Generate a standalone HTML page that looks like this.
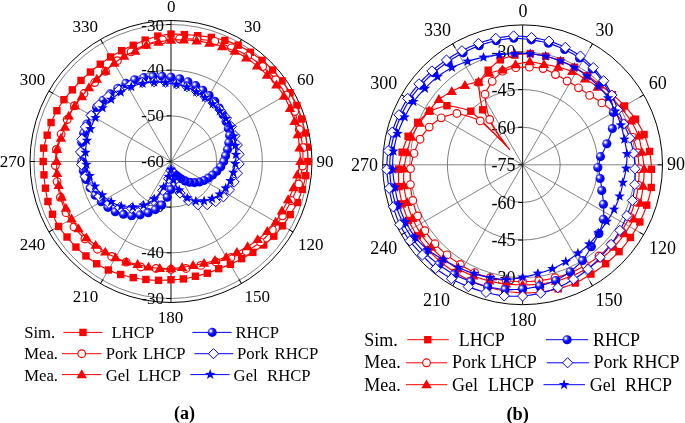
<!DOCTYPE html>
<html><head><meta charset="utf-8"><title>Polar radiation patterns</title>
<style>html,body{margin:0;padding:0;background:#fff;}svg{display:block;}text{font-family:"Liberation Serif",serif;}svg{will-change:transform;}</style></head>
<body>
<svg width="685" height="423" viewBox="0 0 685 423" font-family='"Liberation Serif", serif' fill="#000">
<defs><radialGradient id="sph" cx="0.36" cy="0.36" r="0.66" fx="0.34" fy="0.34"><stop offset="0" stop-color="#ffffff"/><stop offset="0.12" stop-color="#f0f0ff"/><stop offset="0.3" stop-color="#5a5aff"/><stop offset="0.55" stop-color="#0808ff"/><stop offset="1" stop-color="#0000f0"/></radialGradient></defs>
<rect width="685" height="423" fill="#fff"/>
<circle cx="171" cy="161.5" r="45.67" fill="none" stroke="#606060" stroke-width="0.8"/>
<circle cx="171" cy="161.5" r="91.33" fill="none" stroke="#606060" stroke-width="0.8"/>
<circle cx="171" cy="161.5" r="137" fill="none" stroke="#606060" stroke-width="0.8"/>
<line x1="171" y1="161.5" x2="241.5" y2="39.39" stroke="#666" stroke-width="0.8"/>
<line x1="239" y1="43.72" x2="241.5" y2="39.39" stroke="#000" stroke-width="1"/>
<line x1="171" y1="161.5" x2="293.11" y2="91" stroke="#666" stroke-width="0.8"/>
<line x1="288.78" y1="93.5" x2="293.11" y2="91" stroke="#000" stroke-width="1"/>
<line x1="171" y1="161.5" x2="312" y2="161.5" stroke="#666" stroke-width="0.8"/>
<line x1="307" y1="161.5" x2="312" y2="161.5" stroke="#000" stroke-width="1"/>
<line x1="171" y1="161.5" x2="293.11" y2="232" stroke="#666" stroke-width="0.8"/>
<line x1="288.78" y1="229.5" x2="293.11" y2="232" stroke="#000" stroke-width="1"/>
<line x1="171" y1="161.5" x2="241.5" y2="283.61" stroke="#666" stroke-width="0.8"/>
<line x1="239" y1="279.28" x2="241.5" y2="283.61" stroke="#000" stroke-width="1"/>
<line x1="171" y1="161.5" x2="100.5" y2="283.61" stroke="#666" stroke-width="0.8"/>
<line x1="103" y1="279.28" x2="100.5" y2="283.61" stroke="#000" stroke-width="1"/>
<line x1="171" y1="161.5" x2="48.89" y2="232" stroke="#666" stroke-width="0.8"/>
<line x1="53.22" y1="229.5" x2="48.89" y2="232" stroke="#000" stroke-width="1"/>
<line x1="171" y1="161.5" x2="30" y2="161.5" stroke="#666" stroke-width="0.8"/>
<line x1="35" y1="161.5" x2="30" y2="161.5" stroke="#000" stroke-width="1"/>
<line x1="171" y1="161.5" x2="48.89" y2="91" stroke="#666" stroke-width="0.8"/>
<line x1="53.22" y1="93.5" x2="48.89" y2="91" stroke="#000" stroke-width="1"/>
<line x1="171" y1="161.5" x2="100.5" y2="39.39" stroke="#666" stroke-width="0.8"/>
<line x1="103" y1="43.72" x2="100.5" y2="39.39" stroke="#000" stroke-width="1"/>
<circle cx="171" cy="161.5" r="141" fill="none" stroke="#000" stroke-width="1"/>
<line x1="171" y1="20.5" x2="171" y2="302.5" stroke="#222" stroke-width="1.1"/>
<line x1="166.5" y1="24.5" x2="171" y2="24.5" stroke="#000" stroke-width="1"/>
<text x="164" y="30.61" font-size="17" text-anchor="end" font-weight="normal" >-30</text>
<line x1="166.5" y1="298.5" x2="171" y2="298.5" stroke="#000" stroke-width="1"/>
<text x="164" y="303.81" font-size="17" text-anchor="end" font-weight="normal" >-30</text>
<line x1="166.5" y1="70.17" x2="171" y2="70.17" stroke="#000" stroke-width="1"/>
<text x="164" y="75.48" font-size="17" text-anchor="end" font-weight="normal" >-40</text>
<line x1="166.5" y1="252.83" x2="171" y2="252.83" stroke="#000" stroke-width="1"/>
<text x="164" y="258.14" font-size="17" text-anchor="end" font-weight="normal" >-40</text>
<line x1="166.5" y1="115.83" x2="171" y2="115.83" stroke="#000" stroke-width="1"/>
<text x="164" y="121.14" font-size="17" text-anchor="end" font-weight="normal" >-50</text>
<line x1="166.5" y1="207.17" x2="171" y2="207.17" stroke="#000" stroke-width="1"/>
<text x="164" y="212.48" font-size="17" text-anchor="end" font-weight="normal" >-50</text>
<line x1="166.5" y1="161.5" x2="171" y2="161.5" stroke="#000" stroke-width="1"/>
<text x="164" y="166.81" font-size="17" text-anchor="end" font-weight="normal" >-60</text>
<text x="171.2" y="12" font-size="17" text-anchor="middle" font-weight="normal" >0</text>
<text x="252.4" y="31.5" font-size="17" text-anchor="middle" font-weight="normal" >30</text>
<text x="305.6" y="85" font-size="17" text-anchor="middle" font-weight="normal" >60</text>
<text x="325" y="166.5" font-size="17" text-anchor="middle" font-weight="normal" >90</text>
<text x="310.7" y="249.5" font-size="17" text-anchor="middle" font-weight="normal" >120</text>
<text x="257.3" y="302.3" font-size="17" text-anchor="middle" font-weight="normal" >150</text>
<text x="170.5" y="323" font-size="17" text-anchor="middle" font-weight="normal" >180</text>
<text x="85.4" y="302.3" font-size="17" text-anchor="middle" font-weight="normal" >210</text>
<text x="32.4" y="249.5" font-size="17" text-anchor="middle" font-weight="normal" >240</text>
<text x="12.5" y="167" font-size="17" text-anchor="middle" font-weight="normal" >270</text>
<text x="32.4" y="85" font-size="17" text-anchor="middle" font-weight="normal" >300</text>
<text x="85.3" y="31.5" font-size="17" text-anchor="middle" font-weight="normal" >330</text>
<circle cx="522.6" cy="164.8" r="37.6" fill="none" stroke="#606060" stroke-width="0.8"/>
<circle cx="522.6" cy="164.8" r="75.2" fill="none" stroke="#606060" stroke-width="0.8"/>
<circle cx="522.6" cy="164.8" r="112.8" fill="none" stroke="#606060" stroke-width="0.8"/>
<line x1="522.6" y1="164.8" x2="592.55" y2="43.64" stroke="#666" stroke-width="0.8"/>
<line x1="590.05" y1="47.97" x2="592.55" y2="43.64" stroke="#000" stroke-width="1"/>
<line x1="522.6" y1="164.8" x2="643.76" y2="94.85" stroke="#666" stroke-width="0.8"/>
<line x1="639.43" y1="97.35" x2="643.76" y2="94.85" stroke="#000" stroke-width="1"/>
<line x1="522.6" y1="164.8" x2="662.5" y2="164.8" stroke="#666" stroke-width="0.8"/>
<line x1="657.5" y1="164.8" x2="662.5" y2="164.8" stroke="#000" stroke-width="1"/>
<line x1="522.6" y1="164.8" x2="643.76" y2="234.75" stroke="#666" stroke-width="0.8"/>
<line x1="639.43" y1="232.25" x2="643.76" y2="234.75" stroke="#000" stroke-width="1"/>
<line x1="522.6" y1="164.8" x2="592.55" y2="285.96" stroke="#666" stroke-width="0.8"/>
<line x1="590.05" y1="281.63" x2="592.55" y2="285.96" stroke="#000" stroke-width="1"/>
<line x1="522.6" y1="164.8" x2="452.65" y2="285.96" stroke="#666" stroke-width="0.8"/>
<line x1="455.15" y1="281.63" x2="452.65" y2="285.96" stroke="#000" stroke-width="1"/>
<line x1="522.6" y1="164.8" x2="401.44" y2="234.75" stroke="#666" stroke-width="0.8"/>
<line x1="405.77" y1="232.25" x2="401.44" y2="234.75" stroke="#000" stroke-width="1"/>
<line x1="522.6" y1="164.8" x2="382.7" y2="164.8" stroke="#666" stroke-width="0.8"/>
<line x1="387.7" y1="164.8" x2="382.7" y2="164.8" stroke="#000" stroke-width="1"/>
<line x1="522.6" y1="164.8" x2="401.44" y2="94.85" stroke="#666" stroke-width="0.8"/>
<line x1="405.77" y1="97.35" x2="401.44" y2="94.85" stroke="#000" stroke-width="1"/>
<line x1="522.6" y1="164.8" x2="452.65" y2="43.64" stroke="#666" stroke-width="0.8"/>
<line x1="455.15" y1="47.97" x2="452.65" y2="43.64" stroke="#000" stroke-width="1"/>
<circle cx="522.6" cy="164.8" r="139.9" fill="none" stroke="#000" stroke-width="1"/>
<line x1="522.6" y1="24.9" x2="522.6" y2="304.7" stroke="#222" stroke-width="1.1"/>
<line x1="518.1" y1="52" x2="522.6" y2="52" stroke="#000" stroke-width="1"/>
<text x="515.6" y="58.41" font-size="18" text-anchor="end" font-weight="normal" >-30</text>
<line x1="518.1" y1="277.6" x2="522.6" y2="277.6" stroke="#000" stroke-width="1"/>
<text x="515.6" y="284.01" font-size="18" text-anchor="end" font-weight="normal" >-30</text>
<line x1="518.1" y1="89.6" x2="522.6" y2="89.6" stroke="#000" stroke-width="1"/>
<text x="515.6" y="96.01" font-size="18" text-anchor="end" font-weight="normal" >-45</text>
<line x1="518.1" y1="240" x2="522.6" y2="240" stroke="#000" stroke-width="1"/>
<text x="515.6" y="246.41" font-size="18" text-anchor="end" font-weight="normal" >-45</text>
<line x1="518.1" y1="127.2" x2="522.6" y2="127.2" stroke="#000" stroke-width="1"/>
<text x="515.6" y="133.61" font-size="18" text-anchor="end" font-weight="normal" >-60</text>
<line x1="518.1" y1="202.4" x2="522.6" y2="202.4" stroke="#000" stroke-width="1"/>
<text x="515.6" y="208.81" font-size="18" text-anchor="end" font-weight="normal" >-60</text>
<line x1="518.1" y1="164.8" x2="522.6" y2="164.8" stroke="#000" stroke-width="1"/>
<text x="515.6" y="171.21" font-size="18" text-anchor="end" font-weight="normal" >-75</text>
<text x="522.9" y="16.5" font-size="18" text-anchor="middle" font-weight="normal" >0</text>
<text x="604.6" y="36" font-size="18" text-anchor="middle" font-weight="normal" >30</text>
<text x="657.7" y="88.9" font-size="18" text-anchor="middle" font-weight="normal" >60</text>
<text x="675.9" y="170" font-size="18" text-anchor="middle" font-weight="normal" >90</text>
<text x="662.6" y="253.7" font-size="18" text-anchor="middle" font-weight="normal" >120</text>
<text x="609" y="306.3" font-size="18" text-anchor="middle" font-weight="normal" >150</text>
<text x="523.1" y="326.2" font-size="18" text-anchor="middle" font-weight="normal" >180</text>
<text x="436.5" y="306.4" font-size="18" text-anchor="middle" font-weight="normal" >210</text>
<text x="383.7" y="253.8" font-size="18" text-anchor="middle" font-weight="normal" >240</text>
<text x="364.5" y="170.7" font-size="18" text-anchor="middle" font-weight="normal" >270</text>
<text x="383.7" y="88.8" font-size="18" text-anchor="middle" font-weight="normal" >300</text>
<text x="437.5" y="35.8" font-size="18" text-anchor="middle" font-weight="normal" >330</text>
<g id="Lcurves">
<path d="M171 34.1 L173.22 34.09 L175.45 34.11 L177.67 34.17 L179.9 34.28 L182.12 34.42 L184.34 34.6 L186.57 34.69 L188.8 34.81 L191.04 34.98 L193.27 35.18 L195.51 35.43 L197.74 35.71 L200 35.89 L202.26 36.11 L204.53 36.36 L206.8 36.66 L209.06 37.01 L211.33 37.39 L213.6 37.79 L215.86 38.24 L218.13 38.73 L220.39 39.27 L222.64 39.84 L224.89 40.46 L227.12 41.14 L229.35 41.87 L231.56 42.64 L233.77 43.45 L235.96 44.3 L238.15 45.19 L240.23 46.28 L242.29 47.41 L244.34 48.57 L246.36 49.77 L248.37 51.01 L250.35 52.28 L252.36 53.54 L254.34 54.83 L256.3 56.16 L258.25 57.52 L260.17 58.92 L262.07 60.36 L263.89 61.89 L265.68 63.45 L267.45 65.05 L269.19 66.68 L270.9 68.34 L272.59 70.03 L274.23 71.76 L275.85 73.52 L277.43 75.31 L278.98 77.13 L280.51 78.98 L282 80.86 L283.43 82.78 L284.83 84.72 L286.19 86.69 L287.52 88.69 L288.82 90.71 L290.08 92.75 L291.3 94.81 L292.49 96.9 L293.65 99.01 L294.76 101.14 L295.84 103.28 L296.89 105.45 L297.8 107.68 L298.67 109.92 L299.51 112.17 L300.3 114.44 L301.06 116.72 L301.77 119.01 L302.46 121.31 L303.11 123.62 L303.72 125.94 L304.29 128.27 L304.81 130.61 L305.3 132.95 L305.74 135.31 L306.15 137.67 L306.51 140.04 L306.83 142.41 L307.11 144.79 L307.35 147.17 L307.53 149.56 L307.67 151.94 L307.76 154.33 L307.82 156.72 L307.83 159.11 L307.8 161.5 L307.56 163.88 L307.28 166.26 L306.96 168.63 L306.6 170.98 L306.2 173.33 L305.76 175.66 L305.27 177.99 L304.75 180.3 L304.19 182.6 L303.59 184.88 L302.95 187.15 L302.27 189.4 L301.53 191.64 L300.76 193.85 L299.95 196.05 L299.1 198.23 L298.22 200.4 L297.3 202.54 L296.2 204.61 L295.07 206.66 L293.91 208.68 L292.71 210.67 L291.48 212.64 L290.22 214.58 L289 216.52 L287.75 218.44 L286.47 220.34 L285.17 222.2 L283.83 224.04 L282.46 225.85 L281.07 227.64 L279.66 229.4 L278.22 231.13 L276.76 232.83 L275.26 234.51 L273.75 236.15 L272.12 237.7 L270.47 239.22 L268.8 240.7 L267.11 242.15 L265.4 243.56 L263.67 244.94 L261.91 246.27 L260.13 247.57 L258.33 248.83 L256.51 250.05 L254.68 251.24 L252.83 252.39 L251 253.52 L249.14 254.63 L247.27 255.69 L245.39 256.72 L243.5 257.71 L241.59 258.66 L239.75 259.69 L237.9 260.68 L236.03 261.64 L234.15 262.56 L232.26 263.45 L230.35 264.3 L228.43 265.11 L226.51 265.89 L224.57 266.64 L222.63 267.35 L220.67 268.02 L218.71 268.66 L216.85 269.51 L214.97 270.32 L213.07 271.1 L211.16 271.85 L209.24 272.57 L207.31 273.25 L205.34 273.83 L203.37 274.38 L201.39 274.9 L199.39 275.38 L197.39 275.83 L195.39 276.24 L193.41 276.78 L191.42 277.28 L189.41 277.75 L187.4 278.19 L185.38 278.59 L183.34 278.95 L181.29 279.17 L179.24 279.35 L177.18 279.49 L175.12 279.59 L173.06 279.67 L171 279.7 L168.93 279.9 L166.86 280.06 L164.78 280.19 L162.69 280.28 L160.6 280.33 L158.51 280.35 L156.41 280.29 L154.32 280.2 L152.22 280.07 L150.12 279.91 L148.02 279.7 L145.93 279.46 L143.81 279.25 L141.7 279 L139.59 278.72 L137.48 278.39 L135.37 278.03 L133.27 277.62 L131.16 277.2 L129.06 276.74 L126.96 276.24 L124.86 275.7 L122.77 275.12 L120.69 274.51 L118.61 273.85 L116.54 273.16 L114.48 272.43 L112.43 271.66 L110.38 270.86 L108.35 270.01 L106.37 269.06 L104.41 268.07 L102.46 267.05 L100.52 265.99 L98.61 264.89 L96.7 263.76 L94.86 262.54 L93.04 261.29 L91.23 260 L89.45 258.69 L87.69 257.34 L85.95 255.95 L84.23 254.55 L82.52 253.12 L80.84 251.66 L79.19 250.16 L77.56 248.64 L75.95 247.08 L74.4 245.48 L72.87 243.84 L71.37 242.18 L69.9 240.49 L68.46 238.77 L67.04 237.03 L65.56 235.33 L64.11 233.6 L62.69 231.84 L61.29 230.05 L59.93 228.24 L58.59 226.4 L57.49 224.42 L56.42 222.42 L55.39 220.41 L54.4 218.37 L53.44 216.32 L52.51 214.25 L51.66 212.16 L50.84 210.05 L50.05 207.93 L49.31 205.79 L48.6 203.64 L47.93 201.49 L47.41 199.28 L46.93 197.08 L46.49 194.86 L46.09 192.64 L45.73 190.42 L45.41 188.2 L45.07 185.98 L44.78 183.76 L44.53 181.53 L44.31 179.3 L44.14 177.08 L44 174.85 L43.77 172.63 L43.58 170.41 L43.43 168.19 L43.31 165.96 L43.24 163.73 L43.2 161.5 L43.19 159.27 L43.21 157.04 L43.28 154.81 L43.38 152.58 L43.52 150.35 L43.7 148.12 L44.19 145.93 L44.71 143.75 L45.27 141.59 L45.86 139.44 L46.5 137.3 L47.17 135.18 L47.73 133.04 L48.32 130.91 L48.96 128.8 L49.62 126.7 L50.33 124.61 L51.07 122.53 L51.96 120.51 L52.88 118.51 L53.84 116.52 L54.82 114.56 L55.84 112.62 L56.9 110.7 L58 108.81 L59.13 106.94 L60.29 105.09 L61.49 103.27 L62.71 101.47 L63.96 99.7 L65.3 97.99 L66.66 96.3 L68.05 94.65 L69.47 93.02 L70.91 91.42 L72.38 89.85 L73.75 88.22 L75.15 86.62 L76.58 85.04 L78.03 83.49 L79.5 81.96 L81.01 80.47 L82.52 78.99 L84.06 77.54 L85.62 76.12 L87.2 74.72 L88.81 73.36 L90.44 72.03 L92.02 70.65 L93.63 69.29 L95.26 67.97 L96.92 66.68 L98.59 65.41 L100.29 64.18 L101.96 62.9 L103.65 61.66 L105.37 60.44 L107.11 59.25 L108.87 58.1 L110.65 56.97 L112.43 55.85 L114.24 54.75 L116.07 53.69 L117.91 52.66 L119.78 51.66 L121.66 50.69 L123.55 49.7 L125.45 48.75 L127.37 47.84 L129.31 46.95 L131.26 46.1 L133.24 45.28 L135.18 44.34 L137.14 43.43 L139.13 42.55 L141.13 41.7 L143.15 40.89 L145.2 40.11 L147.26 39.35 L149.33 38.63 L151.43 37.94 L153.54 37.29 L155.67 36.67 L157.82 36.09 L159.99 35.66 L162.17 35.27 L164.37 34.92 L166.57 34.61 L168.78 34.34 Z" fill="none" stroke="#ff0000" stroke-width="1.15" stroke-linejoin="round"/>
<rect x="167.3" y="30.4" width="7.4" height="7.4" fill="#ff0000"/>
<rect x="180.64" y="30.9" width="7.4" height="7.4" fill="#ff0000"/>
<rect x="194.04" y="32.01" width="7.4" height="7.4" fill="#ff0000"/>
<rect x="207.63" y="33.69" width="7.4" height="7.4" fill="#ff0000"/>
<rect x="221.19" y="36.76" width="7.4" height="7.4" fill="#ff0000"/>
<rect x="234.45" y="41.49" width="7.4" height="7.4" fill="#ff0000"/>
<rect x="246.65" y="48.58" width="7.4" height="7.4" fill="#ff0000"/>
<rect x="258.37" y="56.66" width="7.4" height="7.4" fill="#ff0000"/>
<rect x="268.89" y="66.33" width="7.4" height="7.4" fill="#ff0000"/>
<rect x="278.3" y="77.16" width="7.4" height="7.4" fill="#ff0000"/>
<rect x="286.38" y="89.05" width="7.4" height="7.4" fill="#ff0000"/>
<rect x="293.19" y="101.75" width="7.4" height="7.4" fill="#ff0000"/>
<rect x="298.07" y="115.31" width="7.4" height="7.4" fill="#ff0000"/>
<rect x="301.6" y="129.25" width="7.4" height="7.4" fill="#ff0000"/>
<rect x="303.65" y="143.47" width="7.4" height="7.4" fill="#ff0000"/>
<rect x="304.1" y="157.8" width="7.4" height="7.4" fill="#ff0000"/>
<rect x="302.06" y="171.96" width="7.4" height="7.4" fill="#ff0000"/>
<rect x="298.57" y="185.7" width="7.4" height="7.4" fill="#ff0000"/>
<rect x="293.6" y="198.84" width="7.4" height="7.4" fill="#ff0000"/>
<rect x="286.52" y="210.88" width="7.4" height="7.4" fill="#ff0000"/>
<rect x="278.76" y="222.15" width="7.4" height="7.4" fill="#ff0000"/>
<rect x="270.05" y="232.45" width="7.4" height="7.4" fill="#ff0000"/>
<rect x="259.97" y="241.24" width="7.4" height="7.4" fill="#ff0000"/>
<rect x="249.13" y="248.69" width="7.4" height="7.4" fill="#ff0000"/>
<rect x="237.89" y="254.96" width="7.4" height="7.4" fill="#ff0000"/>
<rect x="226.65" y="260.6" width="7.4" height="7.4" fill="#ff0000"/>
<rect x="215.01" y="264.96" width="7.4" height="7.4" fill="#ff0000"/>
<rect x="203.61" y="269.55" width="7.4" height="7.4" fill="#ff0000"/>
<rect x="191.69" y="272.54" width="7.4" height="7.4" fill="#ff0000"/>
<rect x="179.64" y="275.25" width="7.4" height="7.4" fill="#ff0000"/>
<rect x="167.3" y="276" width="7.4" height="7.4" fill="#ff0000"/>
<rect x="154.81" y="276.65" width="7.4" height="7.4" fill="#ff0000"/>
<rect x="142.23" y="275.76" width="7.4" height="7.4" fill="#ff0000"/>
<rect x="129.57" y="273.92" width="7.4" height="7.4" fill="#ff0000"/>
<rect x="116.99" y="270.81" width="7.4" height="7.4" fill="#ff0000"/>
<rect x="104.65" y="266.31" width="7.4" height="7.4" fill="#ff0000"/>
<rect x="93" y="260.06" width="7.4" height="7.4" fill="#ff0000"/>
<rect x="82.25" y="252.25" width="7.4" height="7.4" fill="#ff0000"/>
<rect x="72.25" y="243.38" width="7.4" height="7.4" fill="#ff0000"/>
<rect x="63.34" y="233.33" width="7.4" height="7.4" fill="#ff0000"/>
<rect x="54.89" y="222.7" width="7.4" height="7.4" fill="#ff0000"/>
<rect x="48.81" y="210.55" width="7.4" height="7.4" fill="#ff0000"/>
<rect x="44.23" y="197.79" width="7.4" height="7.4" fill="#ff0000"/>
<rect x="41.71" y="184.5" width="7.4" height="7.4" fill="#ff0000"/>
<rect x="40.3" y="171.15" width="7.4" height="7.4" fill="#ff0000"/>
<rect x="39.5" y="157.8" width="7.4" height="7.4" fill="#ff0000"/>
<rect x="40" y="144.42" width="7.4" height="7.4" fill="#ff0000"/>
<rect x="43.47" y="131.48" width="7.4" height="7.4" fill="#ff0000"/>
<rect x="47.37" y="118.83" width="7.4" height="7.4" fill="#ff0000"/>
<rect x="53.2" y="107" width="7.4" height="7.4" fill="#ff0000"/>
<rect x="60.26" y="96" width="7.4" height="7.4" fill="#ff0000"/>
<rect x="68.68" y="86.15" width="7.4" height="7.4" fill="#ff0000"/>
<rect x="77.31" y="76.77" width="7.4" height="7.4" fill="#ff0000"/>
<rect x="86.74" y="68.33" width="7.4" height="7.4" fill="#ff0000"/>
<rect x="96.59" y="60.48" width="7.4" height="7.4" fill="#ff0000"/>
<rect x="106.95" y="53.27" width="7.4" height="7.4" fill="#ff0000"/>
<rect x="117.96" y="46.99" width="7.4" height="7.4" fill="#ff0000"/>
<rect x="129.54" y="41.58" width="7.4" height="7.4" fill="#ff0000"/>
<rect x="141.5" y="36.41" width="7.4" height="7.4" fill="#ff0000"/>
<rect x="154.12" y="32.39" width="7.4" height="7.4" fill="#ff0000"/>
<path d="M171 39 L173.14 38.89 L175.28 38.82 L177.43 38.79 L179.58 38.8 L181.74 38.74 L183.9 38.73 L186.07 38.75 L188.24 38.81 L190.42 38.9 L192.59 39.04 L194.77 39.21 L196.95 39.43 L199.16 39.52 L201.38 39.66 L203.6 39.83 L205.83 40.04 L208.05 40.3 L210.28 40.6 L212.51 40.93 L214.74 41.31 L216.87 42 L218.99 42.73 L221.09 43.49 L223.18 44.29 L225.26 45.13 L227.33 46 L229.38 46.92 L231.42 47.86 L233.51 48.73 L235.59 49.63 L237.65 50.57 L239.7 51.55 L241.74 52.57 L243.76 53.62 L245.77 54.71 L247.76 55.84 L249.69 57.07 L251.61 58.33 L253.5 59.63 L255.37 60.96 L257.21 62.32 L259.04 63.72 L260.84 65.15 L262.63 66.62 L264.36 68.14 L266.06 69.7 L267.74 71.29 L269.39 72.91 L271.02 74.56 L272.62 76.23 L274.19 77.94 L275.73 79.68 L277.13 81.53 L278.5 83.4 L279.83 85.29 L281.14 87.21 L282.41 89.15 L283.64 91.11 L284.84 93.1 L286.01 95.1 L287.22 97.08 L288.39 99.08 L289.53 101.11 L290.63 103.15 L291.7 105.22 L292.73 107.3 L293.73 109.41 L294.69 111.53 L295.4 113.75 L296.07 115.98 L296.71 118.22 L297.3 120.46 L297.85 122.72 L298.37 124.98 L298.84 127.25 L299.27 129.52 L299.85 131.75 L300.38 134 L300.88 136.25 L301.34 138.52 L301.76 140.79 L302.14 143.07 L302.48 145.36 L302.77 147.65 L302.87 149.96 L302.93 152.27 L302.94 154.59 L302.92 156.89 L302.85 159.2 L302.75 161.5 L302.6 163.8 L302.42 166.09 L302.08 168.37 L301.71 170.64 L301.29 172.9 L300.83 175.15 L300.34 177.38 L299.81 179.6 L299.24 181.81 L298.63 184 L297.84 186.15 L297.01 188.28 L296.15 190.39 L295.25 192.48 L294.31 194.54 L293.34 196.58 L292.34 198.6 L291.31 200.59 L290.31 202.58 L289.28 204.55 L288.22 206.5 L287.13 208.42 L286.01 210.32 L284.85 212.19 L283.67 214.04 L282.45 215.86 L281.3 217.7 L280.11 219.51 L278.9 221.31 L277.65 223.07 L276.38 224.82 L275.08 226.53 L273.75 228.23 L272.39 229.89 L270.99 231.51 L269.56 233.11 L268.1 234.67 L266.63 236.21 L265.12 237.72 L263.6 239.2 L262.05 240.65 L260.47 242.06 L258.77 243.35 L257.05 244.6 L255.31 245.81 L253.56 246.99 L251.79 248.14 L250.01 249.25 L248.21 250.32 L246.4 251.36 L244.49 252.25 L242.57 253.11 L240.65 253.92 L238.71 254.7 L236.77 255.44 L234.83 256.13 L232.88 256.79 L230.93 257.41 L229.05 258.11 L227.16 258.78 L225.27 259.4 L223.37 259.99 L221.47 260.55 L219.56 261.06 L217.65 261.55 L215.74 261.99 L213.89 262.54 L212.03 263.05 L210.17 263.53 L208.3 263.97 L206.43 264.38 L204.55 264.76 L202.67 265.1 L200.8 265.41 L198.98 265.9 L197.15 266.36 L195.31 266.79 L193.46 267.19 L191.61 267.55 L189.76 267.88 L187.9 268.18 L186.03 268.45 L184.16 268.67 L182.28 268.86 L180.41 269.01 L178.53 269.14 L176.65 269.23 L174.76 269.28 L172.88 269.31 L171 269.3 L169.12 269.31 L167.24 269.28 L165.35 269.23 L163.47 269.14 L161.59 269.01 L159.72 268.86 L157.84 268.67 L155.97 268.45 L154.07 268.38 L152.17 268.28 L150.27 268.14 L148.37 267.97 L146.47 267.77 L144.56 267.53 L142.66 267.26 L140.76 266.95 L138.91 266.47 L137.06 265.95 L135.22 265.4 L133.39 264.82 L131.58 264.21 L129.77 263.56 L127.97 262.88 L126.18 262.17 L124.33 261.58 L122.49 260.95 L120.66 260.29 L118.84 259.6 L117.03 258.87 L115.22 258.11 L113.43 257.31 L111.65 256.48 L109.83 255.69 L108.02 254.87 L106.22 254.01 L104.43 253.12 L102.66 252.2 L100.89 251.23 L99.14 250.24 L97.4 249.21 L95.77 248.04 L94.17 246.83 L92.58 245.6 L91.01 244.33 L89.46 243.04 L87.93 241.72 L86.43 240.36 L84.94 238.99 L83.49 237.57 L82.06 236.13 L80.66 234.66 L79.28 233.16 L77.92 231.64 L76.59 230.09 L75.28 228.52 L74 226.93 L72.9 225.21 L71.82 223.47 L70.78 221.72 L69.76 219.95 L68.78 218.16 L67.83 216.36 L66.91 214.54 L66.02 212.7 L65.2 210.84 L64.41 208.96 L63.66 207.06 L62.94 205.16 L62.25 203.25 L61.6 201.32 L60.98 199.38 L60.39 197.44 L59.85 195.48 L59.35 193.52 L58.88 191.54 L58.45 189.56 L58.05 187.58 L57.68 185.59 L57.35 183.59 L57.06 181.59 L56.72 179.6 L56.43 177.6 L56.16 175.6 L55.93 173.59 L55.74 171.58 L55.58 169.57 L55.46 167.56 L55.37 165.54 L55.38 163.52 L55.42 161.5 L55.51 159.48 L55.62 157.47 L55.77 155.46 L55.96 153.46 L56.18 151.45 L56.43 149.46 L56.91 147.49 L57.42 145.54 L57.96 143.6 L58.53 141.67 L59.14 139.76 L59.78 137.86 L60.46 135.98 L61.16 134.11 L61.8 132.24 L62.47 130.38 L63.18 128.54 L63.91 126.7 L64.68 124.89 L65.47 123.09 L66.3 121.31 L67.16 119.54 L67.96 117.76 L68.8 116 L69.66 114.25 L70.56 112.51 L71.49 110.79 L72.44 109.1 L73.43 107.41 L74.44 105.75 L75.54 104.14 L76.68 102.56 L77.83 101 L79.02 99.46 L80.23 97.94 L81.46 96.45 L82.72 94.98 L84 93.53 L85.26 92.07 L86.54 90.63 L87.85 89.22 L89.18 87.83 L90.53 86.46 L91.91 85.12 L93.31 83.81 L94.73 82.52 L95.97 81.04 L97.25 79.59 L98.55 78.15 L99.88 76.74 L101.23 75.34 L102.62 73.97 L104.03 72.62 L105.46 71.29 L106.85 69.89 L108.27 68.5 L109.72 67.14 L111.2 65.8 L112.7 64.48 L114.24 63.18 L115.8 61.91 L117.39 60.67 L119.02 59.48 L120.67 58.32 L122.36 57.18 L124.06 56.08 L125.79 55 L127.55 53.95 L129.32 52.92 L131.12 51.93 L132.92 50.91 L134.74 49.92 L136.59 48.95 L138.46 48.02 L140.35 47.12 L142.27 46.25 L144.2 45.42 L146.15 44.61 L148.14 43.89 L150.14 43.2 L152.16 42.55 L154.19 41.93 L156.25 41.34 L158.31 40.79 L160.39 40.28 L162.49 39.8 L164.61 39.54 L166.73 39.32 L168.86 39.14 Z" fill="none" stroke="#ff0000" stroke-width="1.15" stroke-linejoin="round"/>
<circle cx="179.58" cy="38.8" r="3.85" fill="#fff" stroke="#ff0000" stroke-width="1.15"/>
<circle cx="196.95" cy="39.43" r="3.85" fill="#fff" stroke="#ff0000" stroke-width="1.15"/>
<circle cx="214.74" cy="41.31" r="3.85" fill="#fff" stroke="#ff0000" stroke-width="1.15"/>
<circle cx="231.42" cy="47.86" r="3.85" fill="#fff" stroke="#ff0000" stroke-width="1.15"/>
<circle cx="247.76" cy="55.84" r="3.85" fill="#fff" stroke="#ff0000" stroke-width="1.15"/>
<circle cx="262.63" cy="66.62" r="3.85" fill="#fff" stroke="#ff0000" stroke-width="1.15"/>
<circle cx="275.73" cy="79.68" r="3.85" fill="#fff" stroke="#ff0000" stroke-width="1.15"/>
<circle cx="286.01" cy="95.1" r="3.85" fill="#fff" stroke="#ff0000" stroke-width="1.15"/>
<circle cx="294.69" cy="111.53" r="3.85" fill="#fff" stroke="#ff0000" stroke-width="1.15"/>
<circle cx="299.27" cy="129.52" r="3.85" fill="#fff" stroke="#ff0000" stroke-width="1.15"/>
<circle cx="302.77" cy="147.65" r="3.85" fill="#fff" stroke="#ff0000" stroke-width="1.15"/>
<circle cx="302.42" cy="166.09" r="3.85" fill="#fff" stroke="#ff0000" stroke-width="1.15"/>
<circle cx="298.63" cy="184" r="3.85" fill="#fff" stroke="#ff0000" stroke-width="1.15"/>
<circle cx="291.31" cy="200.59" r="3.85" fill="#fff" stroke="#ff0000" stroke-width="1.15"/>
<circle cx="282.45" cy="215.86" r="3.85" fill="#fff" stroke="#ff0000" stroke-width="1.15"/>
<circle cx="272.39" cy="229.89" r="3.85" fill="#fff" stroke="#ff0000" stroke-width="1.15"/>
<circle cx="260.47" cy="242.06" r="3.85" fill="#fff" stroke="#ff0000" stroke-width="1.15"/>
<circle cx="246.4" cy="251.36" r="3.85" fill="#fff" stroke="#ff0000" stroke-width="1.15"/>
<circle cx="230.93" cy="257.41" r="3.85" fill="#fff" stroke="#ff0000" stroke-width="1.15"/>
<circle cx="215.74" cy="261.99" r="3.85" fill="#fff" stroke="#ff0000" stroke-width="1.15"/>
<circle cx="200.8" cy="265.41" r="3.85" fill="#fff" stroke="#ff0000" stroke-width="1.15"/>
<circle cx="186.03" cy="268.45" r="3.85" fill="#fff" stroke="#ff0000" stroke-width="1.15"/>
<circle cx="171" cy="269.3" r="3.85" fill="#fff" stroke="#ff0000" stroke-width="1.15"/>
<circle cx="155.97" cy="268.45" r="3.85" fill="#fff" stroke="#ff0000" stroke-width="1.15"/>
<circle cx="140.76" cy="266.95" r="3.85" fill="#fff" stroke="#ff0000" stroke-width="1.15"/>
<circle cx="126.18" cy="262.17" r="3.85" fill="#fff" stroke="#ff0000" stroke-width="1.15"/>
<circle cx="111.65" cy="256.48" r="3.85" fill="#fff" stroke="#ff0000" stroke-width="1.15"/>
<circle cx="97.4" cy="249.21" r="3.85" fill="#fff" stroke="#ff0000" stroke-width="1.15"/>
<circle cx="84.94" cy="238.99" r="3.85" fill="#fff" stroke="#ff0000" stroke-width="1.15"/>
<circle cx="74" cy="226.93" r="3.85" fill="#fff" stroke="#ff0000" stroke-width="1.15"/>
<circle cx="66.02" cy="212.7" r="3.85" fill="#fff" stroke="#ff0000" stroke-width="1.15"/>
<circle cx="60.39" cy="197.44" r="3.85" fill="#fff" stroke="#ff0000" stroke-width="1.15"/>
<circle cx="57.06" cy="181.59" r="3.85" fill="#fff" stroke="#ff0000" stroke-width="1.15"/>
<circle cx="55.37" cy="165.54" r="3.85" fill="#fff" stroke="#ff0000" stroke-width="1.15"/>
<circle cx="56.43" cy="149.46" r="3.85" fill="#fff" stroke="#ff0000" stroke-width="1.15"/>
<circle cx="61.16" cy="134.11" r="3.85" fill="#fff" stroke="#ff0000" stroke-width="1.15"/>
<circle cx="67.16" cy="119.54" r="3.85" fill="#fff" stroke="#ff0000" stroke-width="1.15"/>
<circle cx="74.44" cy="105.75" r="3.85" fill="#fff" stroke="#ff0000" stroke-width="1.15"/>
<circle cx="84" cy="93.53" r="3.85" fill="#fff" stroke="#ff0000" stroke-width="1.15"/>
<circle cx="94.73" cy="82.52" r="3.85" fill="#fff" stroke="#ff0000" stroke-width="1.15"/>
<circle cx="105.46" cy="71.29" r="3.85" fill="#fff" stroke="#ff0000" stroke-width="1.15"/>
<circle cx="117.39" cy="60.67" r="3.85" fill="#fff" stroke="#ff0000" stroke-width="1.15"/>
<circle cx="131.12" cy="51.93" r="3.85" fill="#fff" stroke="#ff0000" stroke-width="1.15"/>
<circle cx="146.15" cy="44.61" r="3.85" fill="#fff" stroke="#ff0000" stroke-width="1.15"/>
<circle cx="162.49" cy="39.8" r="3.85" fill="#fff" stroke="#ff0000" stroke-width="1.15"/>
<path d="M171 40.1 L173.12 39.99 L175.25 39.91 L177.37 39.87 L179.51 39.86 L181.64 39.9 L183.77 39.97 L185.91 40.03 L188.06 40.13 L190.2 40.26 L192.35 40.43 L194.49 40.65 L196.64 40.89 L198.78 41.17 L200.93 41.47 L203.07 41.82 L205.21 42.21 L207.34 42.63 L209.47 43.09 L211.6 43.58 L213.73 44.1 L215.85 44.66 L217.96 45.26 L220.07 45.9 L222.17 46.58 L224.28 47.24 L226.38 47.95 L228.48 48.7 L230.56 49.48 L232.64 50.31 L234.7 51.17 L236.67 52.21 L238.62 53.29 L240.55 54.4 L242.46 55.55 L244.36 56.73 L246.24 57.95 L248.09 59.19 L249.93 60.48 L251.74 61.79 L253.53 63.14 L255.3 64.52 L257.05 65.93 L258.77 67.37 L260.47 68.85 L262.15 70.35 L263.79 71.89 L265.42 73.45 L267.01 75.05 L268.65 76.62 L270.25 78.22 L271.83 79.85 L273.39 81.51 L274.92 83.19 L276.41 84.91 L277.76 86.74 L279.08 88.6 L280.36 90.48 L281.61 92.38 L282.83 94.3 L284.02 96.25 L285.11 98.25 L286.17 100.27 L287.19 102.3 L288.17 104.35 L289.12 106.42 L290.03 108.5 L290.88 110.61 L291.69 112.74 L292.46 114.88 L293.19 117.03 L293.89 119.19 L294.54 121.36 L295.18 123.54 L295.77 125.72 L296.33 127.92 L296.85 130.12 L297.33 132.34 L297.77 134.55 L298.15 136.78 L298.5 139.02 L298.81 141.26 L299.07 143.5 L299.3 145.75 L299.49 147.99 L299.74 150.24 L299.95 152.48 L300.12 154.73 L300.25 156.99 L300.35 159.24 L300.4 161.5 L299.98 163.75 L299.52 165.99 L299.02 168.21 L298.49 170.41 L297.92 172.6 L297.3 174.78 L296.79 176.94 L296.24 179.1 L295.65 181.24 L295.02 183.37 L294.36 185.48 L293.66 187.57 L292.83 189.63 L291.96 191.66 L291.06 193.67 L290.13 195.66 L289.17 197.63 L288.17 199.57 L287.22 201.52 L286.24 203.44 L285.22 205.35 L284.18 207.23 L283.1 209.08 L282 210.92 L281.03 212.81 L280.02 214.67 L278.99 216.52 L277.92 218.35 L276.83 220.16 L275.7 221.95 L274.35 223.6 L272.96 225.21 L271.56 226.8 L270.13 228.36 L268.67 229.89 L267.19 231.39 L265.65 232.83 L264.09 234.23 L262.51 235.6 L260.91 236.94 L259.29 238.25 L257.65 239.52 L256.02 240.78 L254.37 242.01 L252.71 243.21 L251.02 244.37 L249.33 245.5 L247.62 246.59 L245.86 247.61 L244.08 248.6 L242.3 249.55 L240.51 250.47 L238.7 251.35 L236.89 252.19 L235.14 253.11 L233.39 253.99 L231.62 254.84 L229.84 255.66 L228.05 256.45 L226.25 257.2 L224.39 257.81 L222.52 258.39 L220.64 258.93 L218.77 259.44 L216.89 259.91 L215.01 260.35 L213.2 260.91 L211.38 261.45 L209.56 261.95 L207.73 262.42 L205.9 262.86 L204.06 263.26 L202.24 263.68 L200.41 264.07 L198.58 264.42 L196.74 264.74 L194.9 265.03 L193.06 265.28 L191.25 265.7 L189.44 266.09 L187.62 266.44 L185.79 266.77 L183.96 267.06 L182.12 267.32 L180.28 267.56 L178.43 267.77 L176.58 267.95 L174.72 268.1 L172.86 268.22 L171 268.3 L169.13 268.38 L167.27 268.43 L165.39 268.45 L163.52 268.44 L161.65 268.39 L159.77 268.31 L157.9 268.17 L156.03 267.99 L154.17 267.78 L152.3 267.53 L150.44 267.25 L148.59 266.94 L146.74 266.59 L144.9 266.19 L143.06 265.77 L141.23 265.32 L139.41 264.83 L137.6 264.31 L135.7 264.01 L133.81 263.68 L131.92 263.31 L130.03 262.9 L128.14 262.46 L126.26 261.99 L124.45 261.33 L122.65 260.64 L120.86 259.91 L119.08 259.15 L117.31 258.36 L115.55 257.54 L113.81 256.69 L112.07 255.8 L110.35 254.89 L108.65 253.94 L106.96 252.96 L105.29 251.95 L103.64 250.89 L102 249.81 L100.39 248.7 L98.79 247.55 L97.22 246.38 L95.66 245.18 L94.06 244.01 L92.48 242.81 L90.92 241.58 L89.38 240.32 L87.86 239.03 L86.36 237.71 L84.99 236.27 L83.65 234.8 L82.33 233.31 L81.04 231.79 L79.77 230.25 L78.53 228.68 L77.3 227.11 L76.1 225.51 L74.93 223.89 L73.79 222.25 L72.67 220.58 L71.58 218.9 L70.56 217.17 L69.58 215.43 L68.62 213.66 L67.7 211.88 L66.8 210.09 L65.94 208.27 L65.14 206.43 L64.37 204.58 L63.64 202.71 L62.94 200.83 L62.27 198.94 L61.63 197.04 L61.06 195.11 L60.52 193.18 L60.02 191.24 L59.55 189.29 L59.11 187.33 L58.71 185.37 L58.36 183.4 L58.04 181.42 L57.76 179.44 L57.52 177.45 L57.3 175.46 L57.13 173.47 L56.95 171.48 L56.81 169.48 L56.71 167.49 L56.64 165.49 L56.6 163.5 L56.6 161.5 L56.58 159.5 L56.6 157.51 L56.66 155.51 L56.75 153.51 L56.87 151.51 L57.03 149.52 L57.6 147.58 L58.21 145.65 L58.85 143.74 L59.52 141.84 L60.22 139.97 L60.96 138.11 L61.55 136.23 L62.17 134.36 L62.82 132.51 L63.5 130.67 L64.21 128.85 L64.96 127.04 L65.51 125.18 L66.1 123.32 L66.72 121.47 L67.37 119.63 L68.06 117.8 L68.77 115.99 L69.7 114.27 L70.66 112.56 L71.65 110.88 L72.67 109.22 L73.71 107.57 L74.78 105.95 L75.88 104.35 L77.01 102.77 L78.16 101.21 L79.34 99.67 L80.54 98.16 L81.77 96.67 L82.9 95.11 L84.06 93.57 L85.24 92.05 L86.45 90.56 L87.69 89.08 L88.96 87.63 L90.2 86.15 L91.46 84.69 L92.76 83.26 L94.08 81.85 L95.42 80.45 L96.79 79.09 L98.17 77.71 L99.56 76.37 L100.99 75.04 L102.44 73.74 L103.91 72.47 L105.4 71.21 L106.81 69.82 L108.24 68.45 L109.7 67.11 L111.19 65.78 L112.71 64.48 L114.25 63.21 L115.84 61.98 L117.45 60.79 L119.09 59.61 L120.75 58.47 L122.43 57.35 L124.14 56.26 L125.94 55.35 L127.76 54.47 L129.59 53.62 L131.44 52.81 L133.3 52.02 L135.18 51.27 L136.97 50.19 L138.78 49.13 L140.61 48.1 L142.48 47.1 L144.37 46.13 L146.28 45.2 L148.28 44.6 L150.29 44.05 L152.31 43.52 L154.35 43.03 L156.4 42.58 L158.46 42.16 L160.52 41.72 L162.6 41.33 L164.68 40.97 L166.78 40.64 L168.89 40.35 Z" fill="none" stroke="#ff0000" stroke-width="1.15" stroke-linejoin="round"/>
<path d="M171 34.8 L176.2 43.7 L165.8 43.7 Z" fill="#ff0000"/>
<path d="M183.77 34.67 L188.97 43.57 L178.57 43.57 Z" fill="#ff0000"/>
<path d="M196.64 35.59 L201.84 44.49 L191.44 44.49 Z" fill="#ff0000"/>
<path d="M209.47 37.79 L214.67 46.69 L204.27 46.69 Z" fill="#ff0000"/>
<path d="M222.17 41.28 L227.37 50.18 L216.97 50.18 Z" fill="#ff0000"/>
<path d="M234.7 45.87 L239.9 54.77 L229.5 54.77 Z" fill="#ff0000"/>
<path d="M246.24 52.65 L251.44 61.55 L241.04 61.55 Z" fill="#ff0000"/>
<path d="M257.05 60.63 L262.25 69.53 L251.85 69.53 Z" fill="#ff0000"/>
<path d="M267.01 69.75 L272.21 78.65 L261.81 78.65 Z" fill="#ff0000"/>
<path d="M276.41 79.61 L281.61 88.51 L271.21 88.51 Z" fill="#ff0000"/>
<path d="M284.02 90.95 L289.22 99.85 L278.82 99.85 Z" fill="#ff0000"/>
<path d="M290.03 103.2 L295.23 112.1 L284.83 112.1 Z" fill="#ff0000"/>
<path d="M294.54 116.06 L299.74 124.96 L289.34 124.96 Z" fill="#ff0000"/>
<path d="M297.77 129.25 L302.97 138.15 L292.57 138.15 Z" fill="#ff0000"/>
<path d="M299.49 142.69 L304.69 151.59 L294.29 151.59 Z" fill="#ff0000"/>
<path d="M300.4 156.2 L305.6 165.1 L295.2 165.1 Z" fill="#ff0000"/>
<path d="M297.3 169.48 L302.5 178.38 L292.1 178.38 Z" fill="#ff0000"/>
<path d="M293.66 182.27 L298.86 191.17 L288.46 191.17 Z" fill="#ff0000"/>
<path d="M288.17 194.27 L293.37 203.17 L282.97 203.17 Z" fill="#ff0000"/>
<path d="M282 205.62 L287.2 214.52 L276.8 214.52 Z" fill="#ff0000"/>
<path d="M275.7 216.65 L280.9 225.55 L270.5 225.55 Z" fill="#ff0000"/>
<path d="M267.19 226.09 L272.39 234.99 L261.99 234.99 Z" fill="#ff0000"/>
<path d="M257.65 234.22 L262.85 243.12 L252.45 243.12 Z" fill="#ff0000"/>
<path d="M247.62 241.29 L252.82 250.19 L242.42 250.19 Z" fill="#ff0000"/>
<path d="M236.89 246.89 L242.09 255.79 L231.69 255.79 Z" fill="#ff0000"/>
<path d="M226.25 251.9 L231.45 260.8 L221.05 260.8 Z" fill="#ff0000"/>
<path d="M215.01 255.05 L220.21 263.95 L209.81 263.95 Z" fill="#ff0000"/>
<path d="M204.06 257.96 L209.26 266.86 L198.86 266.86 Z" fill="#ff0000"/>
<path d="M193.06 259.98 L198.26 268.88 L187.86 268.88 Z" fill="#ff0000"/>
<path d="M182.12 262.02 L187.32 270.92 L176.92 270.92 Z" fill="#ff0000"/>
<path d="M171 263 L176.2 271.9 L165.8 271.9 Z" fill="#ff0000"/>
<path d="M159.77 263.01 L164.97 271.91 L154.57 271.91 Z" fill="#ff0000"/>
<path d="M148.59 261.64 L153.79 270.54 L143.39 270.54 Z" fill="#ff0000"/>
<path d="M137.6 259.01 L142.8 267.91 L132.4 267.91 Z" fill="#ff0000"/>
<path d="M126.26 256.69 L131.46 265.59 L121.06 265.59 Z" fill="#ff0000"/>
<path d="M115.55 252.24 L120.75 261.14 L110.35 261.14 Z" fill="#ff0000"/>
<path d="M105.29 246.65 L110.49 255.55 L100.09 255.55 Z" fill="#ff0000"/>
<path d="M95.66 239.88 L100.86 248.78 L90.46 248.78 Z" fill="#ff0000"/>
<path d="M86.36 232.41 L91.56 241.31 L81.16 241.31 Z" fill="#ff0000"/>
<path d="M78.53 223.38 L83.73 232.28 L73.33 232.28 Z" fill="#ff0000"/>
<path d="M71.58 213.6 L76.78 222.5 L66.38 222.5 Z" fill="#ff0000"/>
<path d="M65.94 202.97 L71.14 211.87 L60.74 211.87 Z" fill="#ff0000"/>
<path d="M61.63 191.74 L66.83 200.64 L56.43 200.64 Z" fill="#ff0000"/>
<path d="M58.71 180.07 L63.91 188.97 L53.51 188.97 Z" fill="#ff0000"/>
<path d="M57.13 168.17 L62.33 177.07 L51.93 177.07 Z" fill="#ff0000"/>
<path d="M56.6 156.2 L61.8 165.1 L51.4 165.1 Z" fill="#ff0000"/>
<path d="M57.03 144.22 L62.23 153.12 L51.83 153.12 Z" fill="#ff0000"/>
<path d="M60.96 132.81 L66.16 141.71 L55.76 141.71 Z" fill="#ff0000"/>
<path d="M64.96 121.74 L70.16 130.64 L59.76 130.64 Z" fill="#ff0000"/>
<path d="M68.77 110.69 L73.97 119.59 L63.57 119.59 Z" fill="#ff0000"/>
<path d="M74.78 100.65 L79.98 109.55 L69.58 109.55 Z" fill="#ff0000"/>
<path d="M81.77 91.37 L86.97 100.27 L76.57 100.27 Z" fill="#ff0000"/>
<path d="M88.96 82.33 L94.16 91.23 L83.76 91.23 Z" fill="#ff0000"/>
<path d="M96.79 73.79 L101.99 82.69 L91.59 82.69 Z" fill="#ff0000"/>
<path d="M105.4 65.91 L110.6 74.81 L100.2 74.81 Z" fill="#ff0000"/>
<path d="M114.25 57.91 L119.45 66.81 L109.05 66.81 Z" fill="#ff0000"/>
<path d="M124.14 50.96 L129.34 59.86 L118.94 59.86 Z" fill="#ff0000"/>
<path d="M135.18 45.97 L140.38 54.87 L129.98 54.87 Z" fill="#ff0000"/>
<path d="M146.28 39.9 L151.48 48.8 L141.08 48.8 Z" fill="#ff0000"/>
<path d="M158.46 36.86 L163.66 45.76 L153.26 45.76 Z" fill="#ff0000"/>
<path d="M171 77.2 L172.47 77.4 L173.93 77.62 L175.38 77.86 L176.83 78.14 L178.27 78.43 L179.7 78.76 L181.11 79.18 L182.5 79.64 L183.89 80.11 L185.26 80.61 L186.62 81.14 L187.97 81.68 L189.29 82.28 L190.6 82.91 L191.89 83.55 L193.16 84.21 L194.42 84.9 L195.66 85.61 L196.88 86.33 L198.09 87.08 L199.28 87.84 L200.44 88.62 L201.59 89.42 L202.73 90.24 L203.84 91.08 L204.93 91.93 L206 92.8 L207.06 93.69 L208.09 94.59 L209.1 95.51 L210.09 96.44 L211.06 97.39 L212.01 98.35 L212.94 99.32 L213.85 100.31 L214.73 101.31 L215.53 102.4 L216.31 103.5 L217.07 104.61 L217.79 105.73 L218.5 106.86 L219.18 107.99 L219.88 109.09 L220.55 110.19 L221.2 111.3 L221.83 112.41 L222.44 113.53 L223.02 114.66 L223.59 115.78 L224.14 116.91 L224.66 118.05 L225.16 119.18 L225.64 120.33 L226.09 121.47 L226.52 122.62 L226.93 123.77 L227.32 124.93 L227.68 126.08 L228.02 127.24 L228.33 128.4 L228.61 129.57 L228.86 130.73 L229.09 131.9 L229.3 133.06 L229.49 134.23 L229.65 135.39 L229.57 136.64 L229.47 137.87 L229.35 139.1 L229.2 140.32 L229.02 141.52 L228.82 142.71 L228.67 143.87 L228.48 145.02 L228.28 146.15 L228.05 147.27 L227.81 148.39 L227.54 149.48 L227.26 150.56 L226.97 151.63 L226.66 152.68 L226.32 153.72 L225.97 154.75 L225.6 155.76 L225.33 156.75 L225.03 157.72 L224.73 158.68 L224.4 159.64 L224.06 160.57 L223.7 161.5 L223.24 162.41 L222.77 163.31 L222.28 164.19 L221.78 165.05 L221.26 165.9 L220.73 166.73 L220.1 167.53 L219.46 168.31 L218.8 169.07 L218.14 169.81 L217.46 170.53 L216.78 171.23 L216.1 171.91 L215.41 172.57 L214.71 173.21 L214 173.83 L213.28 174.43 L212.56 175 L211.86 175.57 L211.16 176.12 L210.44 176.64 L209.73 177.15 L209 177.63 L208.27 178.09 L207.55 178.55 L206.83 178.98 L206.11 179.39 L205.38 179.78 L204.64 180.15 L203.91 180.5 L203.14 180.81 L202.38 181.11 L201.61 181.38 L200.85 181.63 L200.08 181.86 L199.32 182.07 L198.49 182.21 L197.66 182.33 L196.84 182.42 L196.02 182.5 L195.21 182.55 L194.41 182.58 L193.61 182.59 L192.82 182.57 L192.04 182.54 L191.26 182.48 L190.49 182.4 L189.74 182.31 L188.93 182.13 L188.14 181.93 L187.36 181.71 L186.6 181.46 L185.84 181.2 L185.11 180.92 L184.38 180.61 L183.68 180.29 L182.98 179.95 L182.3 179.59 L181.64 179.21 L181 178.82 L180.41 178.48 L179.84 178.13 L179.29 177.76 L178.74 177.38 L178.22 176.98 L177.71 176.57 L177.28 176.3 L176.87 176.03 L176.47 175.74 L176.07 175.44 L175.69 175.13 L175.33 174.81 L175 174.57 L174.68 174.32 L174.36 174.06 L174.06 173.79 L173.77 173.52 L173.49 173.24 L173.25 173.07 L173.01 172.89 L172.78 172.71 L172.55 172.52 L172.33 172.34 L172.12 172.14 L172.18 175.03 L172.15 177.93 L172.01 180.82 L171.78 183.72 L171.44 186.61 L171 189.5 L170.49 190.83 L169.93 192.15 L169.33 193.46 L168.67 194.75 L167.98 196.03 L167.24 197.3 L166.44 198.64 L165.6 199.96 L164.7 201.25 L163.76 202.53 L162.78 203.79 L161.75 205.03 L160.76 205.85 L159.74 206.65 L158.69 207.43 L157.61 208.19 L156.5 208.92 L155.36 209.62 L154.23 210.19 L153.08 210.74 L151.9 211.26 L150.7 211.75 L149.47 212.22 L148.22 212.66 L146.94 213.1 L145.63 213.51 L144.31 213.89 L142.96 214.24 L141.59 214.56 L140.2 214.85 L138.81 215.07 L137.4 215.27 L135.98 215.43 L134.54 215.55 L133.09 215.65 L131.62 215.7 L130.28 215.54 L128.93 215.35 L127.58 215.12 L126.22 214.87 L124.86 214.58 L123.49 214.26 L122.12 213.91 L120.75 213.53 L119.38 213.12 L118.01 212.67 L116.64 212.2 L115.26 211.68 L114.02 211.03 L112.78 210.35 L111.55 209.64 L110.32 208.91 L109.11 208.14 L107.9 207.35 L106.76 206.48 L105.64 205.58 L104.54 204.66 L103.44 203.72 L102.36 202.75 L101.28 201.75 L100.23 200.73 L99.19 199.68 L98.16 198.61 L97.15 197.52 L96.15 196.4 L95.18 195.26 L94.29 194.06 L93.43 192.84 L92.58 191.6 L91.75 190.34 L90.95 189.06 L90.16 187.77 L89.43 186.44 L88.72 185.09 L88.03 183.73 L87.36 182.35 L86.72 180.96 L86.1 179.55 L85.57 178.11 L85.06 176.65 L84.58 175.19 L84.12 173.71 L83.69 172.22 L83.28 170.72 L82.95 169.2 L82.65 167.68 L82.37 166.14 L82.12 164.6 L81.9 163.06 L81.7 161.5 L81.53 159.94 L81.39 158.37 L81.27 156.8 L81.19 155.22 L81.13 153.64 L81.1 152.05 L81.14 150.47 L81.22 148.88 L81.32 147.3 L81.45 145.71 L81.61 144.12 L81.79 142.54 L82.04 140.96 L82.31 139.39 L82.62 137.82 L82.95 136.25 L83.31 134.69 L83.69 133.13 L84.15 131.6 L84.64 130.07 L85.16 128.55 L85.7 127.04 L86.27 125.53 L86.86 124.04 L87.51 122.57 L88.19 121.11 L88.89 119.66 L89.62 118.23 L90.37 116.81 L91.15 115.4 L92 114.03 L92.87 112.68 L93.76 111.34 L94.67 110.02 L95.61 108.71 L96.57 107.42 L97.59 106.18 L98.63 104.96 L99.7 103.76 L100.78 102.58 L101.88 101.42 L103 100.27 L104.14 99.15 L105.3 98.05 L106.48 96.98 L107.67 95.92 L108.88 94.89 L110.11 93.87 L111.35 92.88 L112.61 91.92 L113.89 90.97 L115.18 90.05 L116.49 89.16 L117.81 88.28 L119.12 87.41 L120.45 86.56 L121.79 85.73 L123.15 84.92 L124.52 84.14 L125.9 83.38 L127.33 82.71 L128.76 82.06 L130.21 81.44 L131.66 80.85 L133.13 80.28 L134.6 79.74 L136.11 79.31 L137.64 78.92 L139.16 78.55 L140.69 78.21 L142.21 77.9 L143.74 77.62 L145.28 77.36 L146.81 77.13 L148.34 76.93 L149.87 76.76 L151.4 76.62 L152.93 76.5 L154.46 76.41 L155.99 76.35 L157.51 76.31 L159.03 76.3 L160.54 76.32 L162.05 76.37 L163.56 76.44 L165.06 76.54 L166.55 76.67 L168.04 76.82 L169.52 77 Z" fill="none" stroke="#0000ff" stroke-width="1.15" stroke-linejoin="round"/>
<circle cx="171" cy="77.2" r="4.55" fill="url(#sph)"/>
<circle cx="179.7" cy="78.76" r="4.55" fill="url(#sph)"/>
<circle cx="187.97" cy="81.68" r="4.55" fill="url(#sph)"/>
<circle cx="195.66" cy="85.61" r="4.55" fill="url(#sph)"/>
<circle cx="202.73" cy="90.24" r="4.55" fill="url(#sph)"/>
<circle cx="209.1" cy="95.51" r="4.55" fill="url(#sph)"/>
<circle cx="214.73" cy="101.31" r="4.55" fill="url(#sph)"/>
<circle cx="219.18" cy="107.99" r="4.55" fill="url(#sph)"/>
<circle cx="223.02" cy="114.66" r="4.55" fill="url(#sph)"/>
<circle cx="226.09" cy="121.47" r="4.55" fill="url(#sph)"/>
<circle cx="228.33" cy="128.4" r="4.55" fill="url(#sph)"/>
<circle cx="229.65" cy="135.39" r="4.55" fill="url(#sph)"/>
<circle cx="228.82" cy="142.71" r="4.55" fill="url(#sph)"/>
<circle cx="227.54" cy="149.48" r="4.55" fill="url(#sph)"/>
<circle cx="225.6" cy="155.76" r="4.55" fill="url(#sph)"/>
<circle cx="223.7" cy="161.5" r="4.55" fill="url(#sph)"/>
<circle cx="220.73" cy="166.73" r="4.55" fill="url(#sph)"/>
<circle cx="216.78" cy="171.23" r="4.55" fill="url(#sph)"/>
<circle cx="212.56" cy="175" r="4.55" fill="url(#sph)"/>
<circle cx="208.27" cy="178.09" r="4.55" fill="url(#sph)"/>
<circle cx="203.91" cy="180.5" r="4.55" fill="url(#sph)"/>
<circle cx="199.32" cy="182.07" r="4.55" fill="url(#sph)"/>
<circle cx="194.41" cy="182.58" r="4.55" fill="url(#sph)"/>
<circle cx="189.74" cy="182.31" r="4.55" fill="url(#sph)"/>
<circle cx="185.11" cy="180.92" r="4.55" fill="url(#sph)"/>
<circle cx="181" cy="178.82" r="4.55" fill="url(#sph)"/>
<circle cx="177.71" cy="176.57" r="4.55" fill="url(#sph)"/>
<circle cx="175.33" cy="174.81" r="4.55" fill="url(#sph)"/>
<circle cx="173.49" cy="173.24" r="4.55" fill="url(#sph)"/>
<circle cx="172.12" cy="172.14" r="4.55" fill="url(#sph)"/>
<circle cx="171" cy="189.5" r="4.55" fill="url(#sph)"/>
<circle cx="167.24" cy="197.3" r="4.55" fill="url(#sph)"/>
<circle cx="161.75" cy="205.03" r="4.55" fill="url(#sph)"/>
<circle cx="155.36" cy="209.62" r="4.55" fill="url(#sph)"/>
<circle cx="148.22" cy="212.66" r="4.55" fill="url(#sph)"/>
<circle cx="140.2" cy="214.85" r="4.55" fill="url(#sph)"/>
<circle cx="131.62" cy="215.7" r="4.55" fill="url(#sph)"/>
<circle cx="123.49" cy="214.26" r="4.55" fill="url(#sph)"/>
<circle cx="115.26" cy="211.68" r="4.55" fill="url(#sph)"/>
<circle cx="107.9" cy="207.35" r="4.55" fill="url(#sph)"/>
<circle cx="101.28" cy="201.75" r="4.55" fill="url(#sph)"/>
<circle cx="95.18" cy="195.26" r="4.55" fill="url(#sph)"/>
<circle cx="90.16" cy="187.77" r="4.55" fill="url(#sph)"/>
<circle cx="86.1" cy="179.55" r="4.55" fill="url(#sph)"/>
<circle cx="83.28" cy="170.72" r="4.55" fill="url(#sph)"/>
<circle cx="81.7" cy="161.5" r="4.55" fill="url(#sph)"/>
<circle cx="81.1" cy="152.05" r="4.55" fill="url(#sph)"/>
<circle cx="81.79" cy="142.54" r="4.55" fill="url(#sph)"/>
<circle cx="83.69" cy="133.13" r="4.55" fill="url(#sph)"/>
<circle cx="86.86" cy="124.04" r="4.55" fill="url(#sph)"/>
<circle cx="91.15" cy="115.4" r="4.55" fill="url(#sph)"/>
<circle cx="96.57" cy="107.42" r="4.55" fill="url(#sph)"/>
<circle cx="103" cy="100.27" r="4.55" fill="url(#sph)"/>
<circle cx="110.11" cy="93.87" r="4.55" fill="url(#sph)"/>
<circle cx="117.81" cy="88.28" r="4.55" fill="url(#sph)"/>
<circle cx="125.9" cy="83.38" r="4.55" fill="url(#sph)"/>
<circle cx="134.6" cy="79.74" r="4.55" fill="url(#sph)"/>
<circle cx="143.74" cy="77.62" r="4.55" fill="url(#sph)"/>
<circle cx="152.93" cy="76.5" r="4.55" fill="url(#sph)"/>
<circle cx="162.05" cy="76.37" r="4.55" fill="url(#sph)"/>
<path d="M171 83 L172.37 83.18 L173.73 83.38 L175.08 83.61 L176.43 83.86 L177.77 84.13 L179.1 84.42 L180.42 84.74 L181.74 85.08 L183.05 85.45 L184.34 85.83 L185.63 86.24 L186.91 86.67 L188.15 87.2 L189.39 87.76 L190.61 88.33 L191.81 88.92 L193 89.54 L194.18 90.17 L195.35 90.78 L196.51 91.4 L197.66 92.04 L198.8 92.7 L199.91 93.38 L201.02 94.08 L202.12 94.77 L203.21 95.47 L204.28 96.19 L205.33 96.93 L206.37 97.68 L207.4 98.45 L208.43 99.21 L209.44 99.99 L210.43 100.78 L211.41 101.59 L212.37 102.41 L213.32 103.25 L214.26 104.09 L215.18 104.95 L216.09 105.82 L216.98 106.7 L217.85 107.6 L218.71 108.51 L219.57 109.42 L220.41 110.33 L221.24 111.26 L222.05 112.2 L222.84 113.16 L223.61 114.13 L224.36 115.12 L225.08 116.12 L225.79 117.13 L226.48 118.16 L227.14 119.19 L227.79 120.24 L228.44 121.28 L229.06 122.34 L229.67 123.4 L230.25 124.48 L230.82 125.56 L231.36 126.65 L231.9 127.74 L232.42 128.84 L232.92 129.95 L233.41 131.06 L233.87 132.18 L234.31 133.31 L234.67 134.47 L235.01 135.64 L235.32 136.81 L235.62 137.98 L235.89 139.16 L236.15 140.33 L236.47 141.48 L236.78 142.64 L237.07 143.8 L237.34 144.96 L237.58 146.13 L237.81 147.3 L238.08 148.46 L238.33 149.63 L238.56 150.8 L238.77 151.98 L238.96 153.16 L239.12 154.34 L239.21 155.53 L239.27 156.73 L239.31 157.92 L239.33 159.11 L239.32 160.31 L239.3 161.5 L239.22 162.69 L239.13 163.88 L239.01 165.06 L238.87 166.25 L238.71 167.42 L238.53 168.6 L238.28 169.76 L238.01 170.92 L237.72 172.07 L237.41 173.21 L237.08 174.34 L236.73 175.47 L236.35 176.59 L235.95 177.69 L235.52 178.79 L235.08 179.88 L234.63 180.95 L234.15 182.02 L233.62 183.06 L233.08 184.1 L232.52 185.12 L231.95 186.12 L231.35 187.12 L230.75 188.1 L230.09 189.05 L229.42 189.99 L228.74 190.92 L228.04 191.83 L227.33 192.72 L226.6 193.6 L225.8 194.43 L224.99 195.24 L224.17 196.03 L223.34 196.8 L222.5 197.56 L221.64 198.3 L220.65 198.91 L219.65 199.51 L218.64 200.08 L217.63 200.62 L216.61 201.15 L215.59 201.65 L214.58 202.14 L213.56 202.6 L212.54 203.04 L211.52 203.46 L210.5 203.86 L209.48 204.23 L208.34 204.46 L207.21 204.65 L206.08 204.83 L204.96 204.97 L203.85 205.09 L202.74 205.19 L201.54 205.12 L200.36 205.02 L199.19 204.9 L198.03 204.75 L196.88 204.57 L195.75 204.37 L194.47 203.85 L193.22 203.29 L192 202.71 L190.8 202.1 L189.63 201.45 L188.49 200.78 L187.35 200.01 L186.23 199.21 L185.16 198.38 L184.11 197.52 L183.1 196.64 L182.12 195.74 L181.06 194.41 L180.05 193.06 L179.09 191.69 L178.18 190.29 L177.32 188.86 L176.51 187.42 L175.75 185.96 L175.05 184.48 L174.4 182.98 L173.81 181.47 L173.26 179.94 L172.78 178.41 L172.37 177.11 L172 175.8 L171.68 174.48 L171.41 173.16 L171.18 171.83 L171 170.5 L170.83 171.33 L170.63 172.16 L170.4 172.98 L170.14 173.8 L169.85 174.62 L169.54 175.42 L169.09 177.05 L168.59 178.66 L168.03 180.27 L167.41 181.85 L166.74 183.42 L166.01 184.98 L165.26 186.35 L164.47 187.7 L163.62 189.03 L162.73 190.34 L161.79 191.62 L160.8 192.88 L159.71 194.28 L158.57 195.64 L157.38 196.98 L156.14 198.28 L154.85 199.55 L153.51 200.78 L152.26 201.68 L150.98 202.54 L149.66 203.38 L148.31 204.18 L146.92 204.94 L145.5 205.67 L144.18 206.14 L142.83 206.59 L141.45 207 L140.06 207.37 L138.64 207.71 L137.2 208.02 L135.84 208.15 L134.47 208.26 L133.08 208.32 L131.68 208.36 L130.27 208.35 L128.84 208.32 L127.35 208.31 L125.85 208.26 L124.33 208.17 L122.8 208.04 L121.27 207.88 L119.72 207.67 L118.36 207.26 L116.99 206.82 L115.63 206.34 L114.26 205.83 L112.9 205.28 L111.54 204.7 L110.25 204.04 L108.96 203.35 L107.68 202.62 L106.41 201.86 L105.14 201.07 L103.88 200.25 L102.71 199.36 L101.54 198.43 L100.39 197.48 L99.25 196.5 L98.12 195.49 L97 194.45 L95.98 193.34 L94.97 192.22 L93.98 191.07 L93.01 189.89 L92.05 188.68 L91.11 187.46 L90.27 186.18 L89.45 184.88 L88.65 183.56 L87.88 182.22 L87.12 180.86 L86.39 179.48 L85.76 178.07 L85.16 176.64 L84.58 175.19 L84.02 173.72 L83.49 172.24 L82.98 170.75 L82.59 169.24 L82.22 167.71 L81.87 166.17 L81.55 164.62 L81.26 163.07 L81 161.5 L80.85 159.93 L80.72 158.35 L80.62 156.76 L80.55 155.18 L80.51 153.58 L80.5 151.99 L80.55 150.39 L80.62 148.8 L80.73 147.2 L80.86 145.61 L81.02 144.01 L81.21 142.41 L81.49 140.83 L81.8 139.26 L82.13 137.69 L82.5 136.12 L82.89 134.56 L83.31 133.01 L83.79 131.47 L84.3 129.94 L84.83 128.42 L85.39 126.91 L85.98 125.41 L86.59 123.92 L87.29 122.46 L88.01 121.02 L88.76 119.6 L89.53 118.18 L90.33 116.78 L91.15 115.4 L92 114.03 L92.87 112.68 L93.76 111.34 L94.67 110.02 L95.61 108.71 L96.57 107.42 L97.62 106.2 L98.69 105 L99.77 103.82 L100.88 102.66 L102.01 101.53 L103.15 100.41 L104.39 99.38 L105.64 98.38 L106.9 97.4 L108.18 96.45 L109.47 95.52 L110.78 94.62 L112.12 93.76 L113.47 92.94 L114.83 92.14 L116.21 91.37 L117.59 90.62 L118.98 89.9 L120.38 89.21 L121.79 88.54 L123.21 87.91 L124.63 87.3 L126.06 86.71 L127.5 86.16 L128.94 85.63 L130.39 85.13 L131.84 84.65 L133.3 84.2 L134.76 83.78 L136.22 83.39 L137.72 83.1 L139.22 82.84 L140.72 82.61 L142.21 82.41 L143.71 82.23 L145.2 82.09 L146.68 81.97 L148.17 81.88 L149.65 81.81 L151.12 81.77 L152.59 81.76 L154.06 81.78 L155.5 81.74 L156.93 81.73 L158.37 81.74 L159.8 81.78 L161.22 81.85 L162.64 81.94 L164.05 82.05 L165.45 82.19 L166.85 82.36 L168.24 82.55 L169.63 82.76 Z" fill="none" stroke="#0000ff" stroke-width="1.15" stroke-linejoin="round"/>
<path d="M176.43 78.76 L181.53 83.86 L176.43 88.96 L171.33 83.86 Z" fill="#fff" stroke="#0000ff" stroke-width="1"/>
<path d="M186.91 81.57 L192.01 86.67 L186.91 91.77 L181.81 86.67 Z" fill="#fff" stroke="#0000ff" stroke-width="1"/>
<path d="M196.51 86.3 L201.61 91.4 L196.51 96.5 L191.41 91.4 Z" fill="#fff" stroke="#0000ff" stroke-width="1"/>
<path d="M205.33 91.83 L210.43 96.93 L205.33 102.03 L200.23 96.93 Z" fill="#fff" stroke="#0000ff" stroke-width="1"/>
<path d="M213.32 98.15 L218.42 103.25 L213.32 108.35 L208.22 103.25 Z" fill="#fff" stroke="#0000ff" stroke-width="1"/>
<path d="M220.41 105.23 L225.51 110.33 L220.41 115.43 L215.31 110.33 Z" fill="#fff" stroke="#0000ff" stroke-width="1"/>
<path d="M226.48 113.06 L231.58 118.16 L226.48 123.26 L221.38 118.16 Z" fill="#fff" stroke="#0000ff" stroke-width="1"/>
<path d="M231.36 121.55 L236.46 126.65 L231.36 131.75 L226.26 126.65 Z" fill="#fff" stroke="#0000ff" stroke-width="1"/>
<path d="M235.01 130.54 L240.11 135.64 L235.01 140.74 L229.91 135.64 Z" fill="#fff" stroke="#0000ff" stroke-width="1"/>
<path d="M237.34 139.86 L242.44 144.96 L237.34 150.06 L232.24 144.96 Z" fill="#fff" stroke="#0000ff" stroke-width="1"/>
<path d="M239.12 149.24 L244.22 154.34 L239.12 159.44 L234.02 154.34 Z" fill="#fff" stroke="#0000ff" stroke-width="1"/>
<path d="M239.13 158.78 L244.23 163.88 L239.13 168.98 L234.03 163.88 Z" fill="#fff" stroke="#0000ff" stroke-width="1"/>
<path d="M237.41 168.11 L242.51 173.21 L237.41 178.31 L232.31 173.21 Z" fill="#fff" stroke="#0000ff" stroke-width="1"/>
<path d="M234.15 176.92 L239.25 182.02 L234.15 187.12 L229.05 182.02 Z" fill="#fff" stroke="#0000ff" stroke-width="1"/>
<path d="M229.42 184.89 L234.52 189.99 L229.42 195.09 L224.32 189.99 Z" fill="#fff" stroke="#0000ff" stroke-width="1"/>
<path d="M223.34 191.7 L228.44 196.8 L223.34 201.9 L218.24 196.8 Z" fill="#fff" stroke="#0000ff" stroke-width="1"/>
<path d="M215.59 196.55 L220.69 201.65 L215.59 206.75 L210.49 201.65 Z" fill="#fff" stroke="#0000ff" stroke-width="1"/>
<path d="M207.21 199.55 L212.31 204.65 L207.21 209.75 L202.11 204.65 Z" fill="#fff" stroke="#0000ff" stroke-width="1"/>
<path d="M198.03 199.65 L203.13 204.75 L198.03 209.85 L192.93 204.75 Z" fill="#fff" stroke="#0000ff" stroke-width="1"/>
<path d="M188.49 195.68 L193.59 200.78 L188.49 205.88 L183.39 200.78 Z" fill="#fff" stroke="#0000ff" stroke-width="1"/>
<path d="M180.05 187.96 L185.15 193.06 L180.05 198.16 L174.95 193.06 Z" fill="#fff" stroke="#0000ff" stroke-width="1"/>
<path d="M173.81 176.37 L178.91 181.47 L173.81 186.57 L168.71 181.47 Z" fill="#fff" stroke="#0000ff" stroke-width="1"/>
<path d="M171 165.4 L176.1 170.5 L171 175.6 L165.9 170.5 Z" fill="#fff" stroke="#0000ff" stroke-width="1"/>
<path d="M168.59 173.56 L173.69 178.66 L168.59 183.76 L163.49 178.66 Z" fill="#fff" stroke="#0000ff" stroke-width="1"/>
<path d="M162.73 185.24 L167.83 190.34 L162.73 195.44 L157.63 190.34 Z" fill="#fff" stroke="#0000ff" stroke-width="1"/>
<path d="M153.51 195.68 L158.61 200.78 L153.51 205.88 L148.41 200.78 Z" fill="#fff" stroke="#0000ff" stroke-width="1"/>
<path d="M142.83 201.49 L147.93 206.59 L142.83 211.69 L137.73 206.59 Z" fill="#fff" stroke="#0000ff" stroke-width="1"/>
<path d="M131.68 203.26 L136.78 208.36 L131.68 213.46 L126.58 208.36 Z" fill="#fff" stroke="#0000ff" stroke-width="1"/>
<path d="M119.72 202.57 L124.82 207.67 L119.72 212.77 L114.62 207.67 Z" fill="#fff" stroke="#0000ff" stroke-width="1"/>
<path d="M108.96 198.25 L114.06 203.35 L108.96 208.45 L103.86 203.35 Z" fill="#fff" stroke="#0000ff" stroke-width="1"/>
<path d="M99.25 191.4 L104.35 196.5 L99.25 201.6 L94.15 196.5 Z" fill="#fff" stroke="#0000ff" stroke-width="1"/>
<path d="M91.11 182.36 L96.21 187.46 L91.11 192.56 L86.01 187.46 Z" fill="#fff" stroke="#0000ff" stroke-width="1"/>
<path d="M85.16 171.54 L90.26 176.64 L85.16 181.74 L80.06 176.64 Z" fill="#fff" stroke="#0000ff" stroke-width="1"/>
<path d="M81.55 159.52 L86.65 164.62 L81.55 169.72 L76.45 164.62 Z" fill="#fff" stroke="#0000ff" stroke-width="1"/>
<path d="M80.5 146.89 L85.6 151.99 L80.5 157.09 L75.4 151.99 Z" fill="#fff" stroke="#0000ff" stroke-width="1"/>
<path d="M81.8 134.16 L86.9 139.26 L81.8 144.36 L76.7 139.26 Z" fill="#fff" stroke="#0000ff" stroke-width="1"/>
<path d="M85.39 121.81 L90.49 126.91 L85.39 132.01 L80.29 126.91 Z" fill="#fff" stroke="#0000ff" stroke-width="1"/>
<path d="M91.15 110.3 L96.25 115.4 L91.15 120.5 L86.05 115.4 Z" fill="#fff" stroke="#0000ff" stroke-width="1"/>
<path d="M98.69 99.9 L103.79 105 L98.69 110.1 L93.59 105 Z" fill="#fff" stroke="#0000ff" stroke-width="1"/>
<path d="M108.18 91.35 L113.28 96.45 L108.18 101.55 L103.08 96.45 Z" fill="#fff" stroke="#0000ff" stroke-width="1"/>
<path d="M118.98 84.8 L124.08 89.9 L118.98 95 L113.88 89.9 Z" fill="#fff" stroke="#0000ff" stroke-width="1"/>
<path d="M130.39 80.03 L135.49 85.13 L130.39 90.23 L125.29 85.13 Z" fill="#fff" stroke="#0000ff" stroke-width="1"/>
<path d="M142.21 77.31 L147.31 82.41 L142.21 87.51 L137.11 82.41 Z" fill="#fff" stroke="#0000ff" stroke-width="1"/>
<path d="M154.06 76.68 L159.16 81.78 L154.06 86.88 L148.96 81.78 Z" fill="#fff" stroke="#0000ff" stroke-width="1"/>
<path d="M165.45 77.09 L170.55 82.19 L165.45 87.29 L160.35 82.19 Z" fill="#fff" stroke="#0000ff" stroke-width="1"/>
<path d="M171 83.5 L172.36 83.68 L173.71 83.88 L175.06 84.11 L176.39 84.36 L177.73 84.63 L179.05 84.92 L180.36 85.24 L181.67 85.58 L182.97 85.94 L184.26 86.33 L185.53 86.73 L186.8 87.16 L188.04 87.69 L189.27 88.24 L190.48 88.81 L191.67 89.41 L192.85 90.02 L194.02 90.65 L195.17 91.3 L196.31 91.96 L197.43 92.65 L198.53 93.35 L199.62 94.07 L200.69 94.81 L201.78 95.49 L202.85 96.19 L203.91 96.9 L204.96 97.63 L205.99 98.38 L207 99.15 L208 99.93 L208.98 100.72 L209.94 101.54 L210.89 102.36 L211.82 103.2 L212.73 104.06 L213.66 104.89 L214.57 105.74 L215.46 106.59 L216.34 107.47 L217.2 108.36 L218.04 109.26 L218.91 110.12 L219.77 111 L220.6 111.9 L221.43 112.8 L222.23 113.73 L223.02 114.66 L223.77 115.63 L224.5 116.61 L225.21 117.6 L225.9 118.61 L226.57 119.62 L227.23 120.65 L227.86 121.68 L228.48 122.73 L229.08 123.78 L229.66 124.85 L230.22 125.92 L230.76 127 L231.2 128.13 L231.63 129.26 L232.03 130.4 L232.42 131.54 L232.78 132.69 L233.12 133.84 L233.44 135 L233.74 136.15 L234.02 137.31 L234.27 138.47 L234.51 139.63 L234.72 140.8 L234.91 141.96 L235.08 143.12 L235.23 144.29 L235.36 145.45 L235.47 146.62 L235.56 147.78 L235.67 148.93 L235.77 150.08 L235.84 151.23 L235.9 152.38 L235.93 153.53 L235.94 154.67 L235.95 155.82 L235.94 156.96 L235.91 158.1 L235.86 159.24 L235.79 160.37 L235.7 161.5 L235.52 162.63 L235.33 163.75 L235.11 164.86 L234.88 165.97 L234.62 167.07 L234.35 168.16 L234.11 169.25 L233.85 170.33 L233.57 171.41 L233.27 172.48 L232.96 173.54 L232.62 174.6 L232.3 175.65 L231.97 176.7 L231.61 177.74 L231.24 178.77 L230.85 179.8 L230.44 180.81 L229.91 181.78 L229.35 182.74 L228.79 183.68 L228.21 184.61 L227.61 185.53 L227 186.43 L226.36 187.31 L225.71 188.18 L225.04 189.03 L224.36 189.87 L223.67 190.69 L222.96 191.5 L222.14 192.23 L221.32 192.94 L220.48 193.63 L219.64 194.31 L218.78 194.96 L217.92 195.59 L216.96 196.13 L216 196.65 L215.03 197.15 L214.05 197.62 L213.08 198.08 L212.1 198.5 L211.1 198.9 L210.11 199.27 L209.11 199.61 L208.12 199.94 L207.12 200.24 L206.13 200.52 L205.12 200.74 L204.1 200.95 L203.1 201.13 L202.09 201.29 L201.09 201.43 L200.1 201.55 L199.01 201.5 L197.93 201.43 L196.87 201.34 L195.82 201.22 L194.78 201.07 L193.75 200.9 L192.61 200.49 L191.5 200.06 L190.41 199.59 L189.34 199.1 L188.29 198.58 L187.27 198.04 L186.14 197.17 L185.05 196.27 L183.99 195.34 L182.97 194.39 L181.99 193.41 L181.04 192.41 L180.11 191.3 L179.22 190.18 L178.38 189.03 L177.57 187.86 L176.81 186.67 L176.09 185.46 L175.4 184.16 L174.76 182.84 L174.17 181.5 L173.62 180.15 L173.12 178.79 L172.67 177.41 L172.28 176.11 L171.93 174.8 L171.63 173.48 L171.37 172.16 L171.16 170.83 L171 169.5 L170.85 170.33 L170.66 171.16 L170.45 171.99 L170.21 172.81 L169.94 173.62 L169.64 174.43 L169.27 175.56 L168.87 176.68 L168.42 177.8 L167.93 178.9 L167.41 179.99 L166.84 181.06 L166.13 182.61 L165.36 184.14 L164.53 185.65 L163.65 187.13 L162.72 188.6 L161.73 190.03 L160.64 191.6 L159.49 193.14 L158.28 194.64 L157.01 196.11 L155.7 197.55 L154.32 198.96 L153.07 199.94 L151.78 200.9 L150.46 201.82 L149.09 202.7 L147.69 203.55 L146.25 204.37 L144.95 204.86 L143.62 205.32 L142.27 205.74 L140.9 206.13 L139.5 206.49 L138.08 206.8 L136.8 206.89 L135.5 206.94 L134.18 206.96 L132.86 206.95 L131.53 206.91 L130.18 206.83 L128.72 206.84 L127.24 206.82 L125.75 206.75 L124.24 206.65 L122.73 206.51 L121.21 206.33 L119.93 205.89 L118.65 205.42 L117.38 204.92 L116.1 204.39 L114.83 203.83 L113.56 203.23 L112.36 202.56 L111.17 201.86 L109.99 201.12 L108.81 200.36 L107.64 199.57 L106.48 198.75 L105.4 197.86 L104.34 196.95 L103.28 196 L102.24 195.04 L101.21 194.04 L100.2 193.02 L99.28 191.94 L98.37 190.84 L97.48 189.72 L96.61 188.58 L95.75 187.41 L94.92 186.22 L94.18 184.99 L93.46 183.73 L92.76 182.46 L92.08 181.18 L91.43 179.87 L90.79 178.55 L90.23 177.2 L89.69 175.84 L89.17 174.46 L88.68 173.07 L88.21 171.67 L87.76 170.25 L87.4 168.81 L87.07 167.37 L86.77 165.91 L86.48 164.45 L86.23 162.98 L86 161.5 L85.85 160.01 L85.72 158.52 L85.62 157.03 L85.54 155.52 L85.49 154.02 L85.47 152.51 L85.56 151.01 L85.67 149.51 L85.81 148.01 L85.98 146.51 L86.17 145.01 L86.39 143.52 L86.67 142.03 L86.97 140.55 L87.3 139.07 L87.66 137.6 L88.04 136.14 L88.45 134.68 L88.9 133.23 L89.37 131.79 L89.87 130.36 L90.4 128.93 L90.95 127.52 L91.52 126.11 L92.11 124.71 L92.72 123.32 L93.35 121.93 L94.01 120.56 L94.69 119.2 L95.4 117.85 L96.21 116.56 L97.05 115.29 L97.91 114.03 L98.79 112.79 L99.69 111.57 L100.62 110.36 L101.59 109.19 L102.57 108.04 L103.58 106.91 L104.61 105.79 L105.65 104.7 L106.72 103.62 L107.8 102.56 L108.9 101.53 L110.01 100.51 L111.14 99.52 L112.29 98.54 L113.45 97.59 L114.63 96.66 L115.83 95.75 L117.04 94.86 L118.26 93.99 L119.49 93.15 L120.74 92.33 L122.01 91.53 L123.28 90.76 L124.57 90 L125.87 89.27 L127.18 88.57 L128.5 87.89 L129.87 87.3 L131.25 86.74 L132.64 86.21 L134.03 85.7 L135.43 85.22 L136.83 84.76 L138.28 84.41 L139.72 84.08 L141.17 83.78 L142.61 83.51 L144.06 83.26 L145.51 83.04 L146.95 82.84 L148.4 82.68 L149.84 82.54 L151.28 82.42 L152.72 82.33 L154.16 82.27 L155.59 82.23 L157.02 82.22 L158.45 82.24 L159.87 82.28 L161.28 82.34 L162.69 82.44 L164.09 82.55 L165.49 82.69 L166.88 82.86 L168.26 83.05 L169.63 83.26 Z" fill="none" stroke="#0000ff" stroke-width="1.15" stroke-linejoin="round"/>
<path d="M176.39 78.86 L177.72 82.53 L181.63 82.66 L178.54 85.05 L179.63 88.8 L176.39 86.61 L173.16 88.8 L174.25 85.05 L171.16 82.66 L175.07 82.53 Z" fill="#0000ff"/>
<path d="M186.8 81.66 L188.13 85.34 L192.03 85.46 L188.95 87.86 L190.03 91.61 L186.8 89.42 L183.57 91.61 L184.66 87.86 L181.57 85.46 L185.48 85.34 Z" fill="#0000ff"/>
<path d="M196.31 86.46 L197.63 90.14 L201.54 90.26 L198.45 92.66 L199.54 96.41 L196.31 94.22 L193.08 96.41 L194.16 92.66 L191.08 90.26 L194.98 90.14 Z" fill="#0000ff"/>
<path d="M204.96 92.13 L206.28 95.81 L210.19 95.93 L207.1 98.33 L208.19 102.08 L204.96 99.89 L201.73 102.08 L202.81 98.33 L199.73 95.93 L203.63 95.81 Z" fill="#0000ff"/>
<path d="M212.73 98.56 L214.06 102.24 L217.96 102.36 L214.88 104.76 L215.97 108.51 L212.73 106.31 L209.5 108.51 L210.59 104.76 L207.5 102.36 L211.41 102.24 Z" fill="#0000ff"/>
<path d="M219.77 105.5 L221.09 109.18 L225 109.3 L221.91 111.7 L223 115.45 L219.77 113.26 L216.53 115.45 L217.62 111.7 L214.53 109.3 L218.44 109.18 Z" fill="#0000ff"/>
<path d="M225.9 113.11 L227.22 116.78 L231.13 116.91 L228.04 119.31 L229.13 123.06 L225.9 120.86 L222.67 123.06 L223.75 119.31 L220.67 116.91 L224.57 116.78 Z" fill="#0000ff"/>
<path d="M230.76 121.5 L232.08 125.18 L235.99 125.3 L232.9 127.7 L233.99 131.45 L230.76 129.25 L227.52 131.45 L228.61 127.7 L225.52 125.3 L229.43 125.18 Z" fill="#0000ff"/>
<path d="M233.74 130.65 L235.06 134.33 L238.97 134.45 L235.88 136.85 L236.97 140.6 L233.74 138.41 L230.51 140.6 L231.59 136.85 L228.51 134.45 L232.41 134.33 Z" fill="#0000ff"/>
<path d="M235.36 139.95 L236.69 143.63 L240.59 143.75 L237.51 146.15 L238.6 149.9 L235.36 147.71 L232.13 149.9 L233.22 146.15 L230.13 143.75 L234.04 143.63 Z" fill="#0000ff"/>
<path d="M235.94 149.17 L237.27 152.85 L241.17 152.97 L238.09 155.37 L239.18 159.12 L235.94 156.93 L232.71 159.12 L233.8 155.37 L230.71 152.97 L234.62 152.85 Z" fill="#0000ff"/>
<path d="M235.33 158.25 L236.65 161.92 L240.56 162.05 L237.47 164.44 L238.56 168.2 L235.33 166 L232.09 168.2 L233.18 164.44 L230.1 162.05 L234 161.92 Z" fill="#0000ff"/>
<path d="M233.27 166.98 L234.6 170.66 L238.5 170.78 L235.42 173.18 L236.51 176.93 L233.27 174.74 L230.04 176.93 L231.13 173.18 L228.04 170.78 L231.95 170.66 Z" fill="#0000ff"/>
<path d="M230.44 175.31 L231.77 178.99 L235.67 179.11 L232.59 181.51 L233.67 185.26 L230.44 183.07 L227.21 185.26 L228.3 181.51 L225.21 179.11 L229.12 178.99 Z" fill="#0000ff"/>
<path d="M225.71 182.68 L227.03 186.36 L230.94 186.48 L227.85 188.88 L228.94 192.63 L225.71 190.44 L222.47 192.63 L223.56 188.88 L220.48 186.48 L224.38 186.36 Z" fill="#0000ff"/>
<path d="M219.64 188.81 L220.96 192.48 L224.87 192.61 L221.78 195 L222.87 198.76 L219.64 196.56 L216.4 198.76 L217.49 195 L214.41 192.61 L218.31 192.48 Z" fill="#0000ff"/>
<path d="M212.1 193 L213.42 196.68 L217.33 196.8 L214.24 199.2 L215.33 202.95 L212.1 200.76 L208.86 202.95 L209.95 199.2 L206.87 196.8 L210.77 196.68 Z" fill="#0000ff"/>
<path d="M204.1 195.45 L205.43 199.13 L209.33 199.25 L206.25 201.65 L207.34 205.4 L204.1 203.21 L200.87 205.4 L201.96 201.65 L198.87 199.25 L202.78 199.13 Z" fill="#0000ff"/>
<path d="M195.82 195.72 L197.14 199.39 L201.05 199.52 L197.96 201.91 L199.05 205.67 L195.82 203.47 L192.59 205.67 L193.67 201.91 L190.59 199.52 L194.49 199.39 Z" fill="#0000ff"/>
<path d="M187.27 192.54 L188.59 196.22 L192.5 196.34 L189.41 198.74 L190.5 202.49 L187.27 200.3 L184.04 202.49 L185.12 198.74 L182.04 196.34 L185.94 196.22 Z" fill="#0000ff"/>
<path d="M179.22 184.68 L180.55 188.35 L184.45 188.48 L181.37 190.87 L182.46 194.63 L179.22 192.43 L175.99 194.63 L177.08 190.87 L173.99 188.48 L177.9 188.35 Z" fill="#0000ff"/>
<path d="M173.62 174.65 L174.95 178.33 L178.85 178.45 L175.77 180.85 L176.85 184.6 L173.62 182.41 L170.39 184.6 L171.48 180.85 L168.39 178.45 L172.3 178.33 Z" fill="#0000ff"/>
<path d="M171 164 L172.33 167.68 L176.23 167.8 L173.14 170.2 L174.23 173.95 L171 171.75 L167.77 173.95 L168.86 170.2 L165.77 167.8 L169.67 167.68 Z" fill="#0000ff"/>
<path d="M168.87 171.18 L170.19 174.86 L174.1 174.98 L171.01 177.38 L172.1 181.13 L168.87 178.94 L165.63 181.13 L166.72 177.38 L163.64 174.98 L167.54 174.86 Z" fill="#0000ff"/>
<path d="M163.65 181.63 L164.98 185.31 L168.88 185.43 L165.79 187.83 L166.88 191.58 L163.65 189.39 L160.42 191.58 L161.51 187.83 L158.42 185.43 L162.32 185.31 Z" fill="#0000ff"/>
<path d="M154.32 193.46 L155.65 197.13 L159.55 197.26 L156.47 199.65 L157.56 203.4 L154.32 201.21 L151.09 203.4 L152.18 199.65 L149.09 197.26 L153 197.13 Z" fill="#0000ff"/>
<path d="M143.62 199.82 L144.95 203.49 L148.85 203.62 L145.77 206.01 L146.85 209.77 L143.62 207.57 L140.39 209.77 L141.48 206.01 L138.39 203.62 L142.3 203.49 Z" fill="#0000ff"/>
<path d="M132.86 201.45 L134.19 205.13 L138.09 205.25 L135.01 207.65 L136.09 211.4 L132.86 209.21 L129.63 211.4 L130.72 207.65 L127.63 205.25 L131.54 205.13 Z" fill="#0000ff"/>
<path d="M121.21 200.83 L122.53 204.51 L126.44 204.63 L123.35 207.03 L124.44 210.78 L121.21 208.59 L117.98 210.78 L119.06 207.03 L115.98 204.63 L119.88 204.51 Z" fill="#0000ff"/>
<path d="M111.17 196.36 L112.5 200.03 L116.4 200.16 L113.32 202.55 L114.4 206.3 L111.17 204.11 L107.94 206.3 L109.03 202.55 L105.94 200.16 L109.85 200.03 Z" fill="#0000ff"/>
<path d="M102.24 189.54 L103.57 193.21 L107.47 193.34 L104.39 195.73 L105.48 199.48 L102.24 197.29 L99.01 199.48 L100.1 195.73 L97.01 193.34 L100.92 193.21 Z" fill="#0000ff"/>
<path d="M94.92 180.72 L96.24 184.4 L100.15 184.52 L97.06 186.92 L98.15 190.67 L94.92 188.48 L91.68 190.67 L92.77 186.92 L89.68 184.52 L93.59 184.4 Z" fill="#0000ff"/>
<path d="M89.69 170.34 L91.01 174.01 L94.92 174.14 L91.83 176.53 L92.92 180.29 L89.69 178.09 L86.45 180.29 L87.54 176.53 L84.46 174.14 L88.36 174.01 Z" fill="#0000ff"/>
<path d="M86.48 158.95 L87.81 162.63 L91.72 162.75 L88.63 165.15 L89.72 168.9 L86.48 166.71 L83.25 168.9 L84.34 165.15 L81.25 162.75 L85.16 162.63 Z" fill="#0000ff"/>
<path d="M85.47 147.01 L86.8 150.69 L90.7 150.81 L87.62 153.21 L88.7 156.96 L85.47 154.77 L82.24 156.96 L83.33 153.21 L80.24 150.81 L84.15 150.69 Z" fill="#0000ff"/>
<path d="M86.97 135.05 L88.3 138.73 L92.2 138.85 L89.12 141.25 L90.21 145 L86.97 142.8 L83.74 145 L84.83 141.25 L81.74 138.85 L85.65 138.73 Z" fill="#0000ff"/>
<path d="M90.4 123.43 L91.72 127.11 L95.63 127.23 L92.54 129.63 L93.63 133.38 L90.4 131.19 L87.16 133.38 L88.25 129.63 L85.17 127.23 L89.07 127.11 Z" fill="#0000ff"/>
<path d="M95.4 112.35 L96.72 116.03 L100.63 116.15 L97.54 118.55 L98.63 122.3 L95.4 120.1 L92.16 122.3 L93.25 118.55 L90.17 116.15 L94.07 116.03 Z" fill="#0000ff"/>
<path d="M102.57 102.54 L103.9 106.22 L107.81 106.34 L104.72 108.74 L105.81 112.49 L102.57 110.3 L99.34 112.49 L100.43 108.74 L97.34 106.34 L101.25 106.22 Z" fill="#0000ff"/>
<path d="M111.14 94.02 L112.47 97.69 L116.37 97.82 L113.29 100.21 L114.38 103.97 L111.14 101.77 L107.91 103.97 L109 100.21 L105.91 97.82 L109.82 97.69 Z" fill="#0000ff"/>
<path d="M120.74 86.83 L122.07 90.5 L125.98 90.63 L122.89 93.03 L123.98 96.78 L120.74 94.58 L117.51 96.78 L118.6 93.03 L115.51 90.63 L119.42 90.5 Z" fill="#0000ff"/>
<path d="M131.25 81.24 L132.58 84.92 L136.48 85.04 L133.4 87.44 L134.48 91.19 L131.25 89 L128.02 91.19 L129.11 87.44 L126.02 85.04 L129.93 84.92 Z" fill="#0000ff"/>
<path d="M142.61 78.01 L143.94 81.68 L147.84 81.81 L144.76 84.2 L145.85 87.96 L142.61 85.76 L139.38 87.96 L140.47 84.2 L137.38 81.81 L141.29 81.68 Z" fill="#0000ff"/>
<path d="M154.16 76.77 L155.48 80.45 L159.39 80.57 L156.3 82.97 L157.39 86.72 L154.16 84.53 L150.93 86.72 L152.01 82.97 L148.93 80.57 L152.83 80.45 Z" fill="#0000ff"/>
<path d="M165.49 77.19 L166.81 80.87 L170.72 80.99 L167.63 83.39 L168.72 87.14 L165.49 84.95 L162.26 87.14 L163.34 83.39 L160.26 80.99 L164.16 80.87 Z" fill="#0000ff"/>
</g>
<g id="Rcurves">
<path d="M522.6 54.05 L524.54 53.88 L526.48 53.74 L528.43 53.64 L530.38 53.57 L532.31 53.79 L534.24 54.04 L536.17 54.32 L538.08 54.63 L539.99 54.98 L541.9 55.36 L543.79 55.78 L545.68 56.23 L547.56 56.68 L549.44 57.17 L551.3 57.69 L553.15 58.24 L555 58.83 L556.83 59.45 L558.65 60.1 L560.46 60.78 L562.26 61.48 L564.05 62.21 L565.82 62.97 L567.59 63.76 L569.33 64.59 L571.06 65.44 L572.78 66.32 L574.48 67.23 L576.16 68.18 L577.83 69.15 L579.47 70.15 L581.1 71.18 L582.71 72.23 L584.31 73.32 L585.88 74.43 L587.43 75.57 L589.03 76.64 L590.62 77.74 L592.18 78.88 L593.72 80.04 L595.25 81.23 L596.76 82.44 L598.24 83.68 L599.71 84.95 L601.35 86.05 L602.99 87.17 L604.6 88.33 L606.2 89.52 L607.79 90.75 L609.35 92 L610.9 93.29 L612.43 94.61 L614.01 95.91 L615.58 97.25 L617.12 98.62 L618.64 100.02 L620.15 101.45 L621.63 102.92 L623.09 104.42 L624.53 105.95 L625.99 107.49 L627.43 109.06 L628.84 110.67 L630.23 112.31 L631.59 113.97 L632.93 115.68 L634.25 117.41 L635.53 119.17 L636.71 121 L637.85 122.85 L638.97 124.73 L640.06 126.64 L641.11 128.57 L642.13 130.52 L643.12 132.51 L644.08 134.51 L644.9 136.57 L645.68 138.64 L646.42 140.73 L647.13 142.84 L647.8 144.97 L648.44 147.11 L649.04 149.28 L649.6 151.45 L649.98 153.66 L650.31 155.87 L650.61 158.09 L650.87 160.32 L651.09 162.56 L651.28 164.8 L651.42 167.05 L651.52 169.3 L651.62 171.56 L651.68 173.83 L651.71 176.1 L651.69 178.37 L651.63 180.64 L651.53 182.92 L651.39 185.2 L651.22 187.48 L650.79 189.72 L650.32 191.95 L649.82 194.17 L649.27 196.38 L648.69 198.59 L648.07 200.78 L647.41 202.96 L646.71 205.13 L645.98 207.28 L645.21 209.43 L644.4 211.55 L643.55 213.67 L642.67 215.77 L641.75 217.85 L640.79 219.91 L639.8 221.96 L638.74 223.98 L637.65 225.97 L636.52 227.95 L635.36 229.9 L634.16 231.83 L632.93 233.74 L631.67 235.63 L630.37 237.5 L629.07 239.35 L627.73 241.18 L626.36 242.99 L624.96 244.77 L623.53 246.53 L622.07 248.27 L620.58 249.97 L619.06 251.65 L617.47 253.27 L615.86 254.86 L614.22 256.42 L612.56 257.95 L610.87 259.46 L609.15 260.93 L607.41 262.37 L605.65 263.77 L603.88 265.18 L602.1 266.55 L600.29 267.89 L598.45 269.2 L596.6 270.48 L594.72 271.73 L592.82 272.94 L590.91 274.11 L589.02 275.34 L587.11 276.54 L585.18 277.7 L583.23 278.83 L581.26 279.93 L579.27 280.99 L577.26 282.02 L575.23 283.01 L573.14 283.87 L571.04 284.68 L568.92 285.47 L566.79 286.21 L564.65 286.91 L562.49 287.58 L560.33 288.21 L558.16 288.8 L555.97 289.34 L553.78 289.85 L551.58 290.31 L549.37 290.74 L547.15 291.12 L544.94 291.47 L542.71 291.78 L540.48 292.05 L538.25 292.28 L536.02 292.47 L533.78 292.62 L531.55 292.74 L529.31 292.81 L527.07 292.85 L524.83 292.84 L522.6 292.8 L520.37 292.72 L518.14 292.6 L515.91 292.44 L513.69 292.24 L511.47 292 L509.26 291.73 L507.05 291.41 L504.86 291.06 L502.66 290.67 L500.48 290.24 L498.31 289.77 L496.14 289.27 L493.99 288.73 L491.85 288.15 L489.71 287.53 L487.59 286.88 L485.47 286.25 L483.35 285.58 L481.25 284.88 L479.16 284.14 L477.09 283.36 L475.02 282.55 L472.98 281.7 L470.94 280.82 L468.93 279.9 L466.93 278.95 L464.94 277.96 L462.98 276.93 L461.03 275.88 L459.1 274.79 L457.19 273.66 L455.3 272.5 L453.43 271.31 L451.58 270.09 L449.76 268.83 L447.95 267.55 L446.17 266.23 L444.41 264.88 L442.68 263.5 L440.97 262.09 L439.28 260.65 L437.62 259.18 L435.99 257.68 L434.38 256.16 L432.8 254.6 L431.24 253.02 L429.72 251.41 L428.22 249.78 L426.75 248.12 L425.31 246.43 L423.9 244.72 L422.52 242.99 L421.17 241.23 L419.85 239.45 L418.57 237.64 L417.31 235.82 L416.09 233.97 L414.9 232.1 L413.74 230.21 L412.61 228.3 L411.52 226.37 L410.47 224.42 L409.44 222.46 L408.45 220.47 L407.56 218.45 L406.69 216.4 L405.87 214.35 L405.08 212.28 L404.33 210.2 L403.61 208.11 L402.93 206 L402.29 203.89 L401.75 201.75 L401.24 199.6 L400.77 197.44 L400.34 195.28 L399.95 193.12 L399.6 190.94 L399.28 188.77 L399.01 186.59 L398.83 184.4 L398.69 182.21 L398.59 180.03 L398.53 177.84 L398.51 175.66 L398.53 173.48 L398.58 171.3 L398.68 169.13 L398.98 166.96 L399.33 164.8 L399.71 162.65 L400.12 160.52 L400.58 158.41 L401.07 156.3 L401.6 154.21 L402.16 152.14 L402.79 150.09 L403.45 148.05 L404.14 146.04 L404.87 144.04 L405.63 142.06 L406.42 140.11 L407.25 138.17 L408.11 136.25 L409.2 134.41 L410.32 132.61 L411.48 130.83 L412.66 129.08 L413.87 127.36 L415.1 125.67 L416.36 124.02 L417.64 122.39 L419.08 120.86 L420.53 119.36 L422.01 117.89 L423.51 116.47 L425.02 115.08 L426.56 113.73 L428.11 112.42 L429.68 111.15 L431.84 110.26 L434 109.44 L436.16 108.67 L438.33 107.96 L440.49 107.31 L442.65 106.71 L444.8 106.18 L446.95 105.7 L450.08 106.08 L453.18 106.55 L456.23 107.11 L459.25 107.76 L462.22 108.49 L465.14 109.31 L468.02 110.22 L470.85 111.21 L482.41 121.7 L493.59 132.58 L504.37 143.83 L509.61 149.59 L506.32 145.39 L499.94 136.82 L493.87 128.03 L488.1 119.01 L482.63 109.79 L481.79 106.52 L481.05 103.2 L480.42 99.84 L479.89 96.45 L479.47 93.01 L479.15 89.54 L478.94 86.04 L478.85 82.51 L479.86 80.92 L480.92 79.35 L482.02 77.78 L483.17 76.23 L484.35 74.69 L485.58 73.17 L486.85 71.66 L488.16 70.17 L489.55 68.81 L490.97 67.46 L492.43 66.13 L493.93 64.83 L495.47 63.55 L497.04 62.29 L498.65 61.05 L500.29 59.84 L502.06 59.14 L503.85 58.47 L505.66 57.82 L507.48 57.21 L509.32 56.62 L511.17 56.07 L513.04 55.55 L514.93 55.07 L516.83 54.76 L518.75 54.49 L520.67 54.25 Z" fill="none" stroke="#ff0000" stroke-width="1.15" stroke-linejoin="round"/>
<rect x="526.68" y="49.87" width="7.4" height="7.4" fill="#ff0000"/>
<rect x="541.98" y="52.53" width="7.4" height="7.4" fill="#ff0000"/>
<rect x="556.76" y="57.08" width="7.4" height="7.4" fill="#ff0000"/>
<rect x="570.78" y="63.53" width="7.4" height="7.4" fill="#ff0000"/>
<rect x="583.73" y="71.87" width="7.4" height="7.4" fill="#ff0000"/>
<rect x="596.01" y="81.25" width="7.4" height="7.4" fill="#ff0000"/>
<rect x="608.73" y="90.91" width="7.4" height="7.4" fill="#ff0000"/>
<rect x="620.83" y="102.25" width="7.4" height="7.4" fill="#ff0000"/>
<rect x="631.83" y="115.47" width="7.4" height="7.4" fill="#ff0000"/>
<rect x="640.38" y="130.81" width="7.4" height="7.4" fill="#ff0000"/>
<rect x="645.9" y="147.75" width="7.4" height="7.4" fill="#ff0000"/>
<rect x="647.82" y="165.6" width="7.4" height="7.4" fill="#ff0000"/>
<rect x="647.52" y="183.78" width="7.4" height="7.4" fill="#ff0000"/>
<rect x="643.01" y="201.43" width="7.4" height="7.4" fill="#ff0000"/>
<rect x="636.1" y="218.26" width="7.4" height="7.4" fill="#ff0000"/>
<rect x="626.67" y="233.8" width="7.4" height="7.4" fill="#ff0000"/>
<rect x="615.36" y="247.95" width="7.4" height="7.4" fill="#ff0000"/>
<rect x="601.95" y="260.07" width="7.4" height="7.4" fill="#ff0000"/>
<rect x="587.21" y="270.41" width="7.4" height="7.4" fill="#ff0000"/>
<rect x="571.53" y="279.31" width="7.4" height="7.4" fill="#ff0000"/>
<rect x="554.46" y="285.1" width="7.4" height="7.4" fill="#ff0000"/>
<rect x="536.78" y="288.35" width="7.4" height="7.4" fill="#ff0000"/>
<rect x="518.9" y="289.1" width="7.4" height="7.4" fill="#ff0000"/>
<rect x="501.16" y="287.36" width="7.4" height="7.4" fill="#ff0000"/>
<rect x="483.89" y="283.18" width="7.4" height="7.4" fill="#ff0000"/>
<rect x="467.24" y="277.12" width="7.4" height="7.4" fill="#ff0000"/>
<rect x="451.6" y="268.8" width="7.4" height="7.4" fill="#ff0000"/>
<rect x="437.27" y="258.39" width="7.4" height="7.4" fill="#ff0000"/>
<rect x="424.52" y="246.08" width="7.4" height="7.4" fill="#ff0000"/>
<rect x="413.61" y="232.12" width="7.4" height="7.4" fill="#ff0000"/>
<rect x="404.75" y="216.77" width="7.4" height="7.4" fill="#ff0000"/>
<rect x="398.59" y="200.19" width="7.4" height="7.4" fill="#ff0000"/>
<rect x="395.31" y="182.89" width="7.4" height="7.4" fill="#ff0000"/>
<rect x="394.98" y="165.43" width="7.4" height="7.4" fill="#ff0000"/>
<rect x="398.46" y="148.44" width="7.4" height="7.4" fill="#ff0000"/>
<rect x="404.41" y="132.55" width="7.4" height="7.4" fill="#ff0000"/>
<rect x="413.94" y="118.69" width="7.4" height="7.4" fill="#ff0000"/>
<rect x="425.98" y="107.45" width="7.4" height="7.4" fill="#ff0000"/>
<rect x="443.25" y="102" width="7.4" height="7.4" fill="#ff0000"/>
<rect x="467.15" y="107.51" width="7.4" height="7.4" fill="#ff0000"/>
<rect x="478.93" y="106.09" width="7.4" height="7.4" fill="#ff0000"/>
<rect x="475.15" y="78.81" width="7.4" height="7.4" fill="#ff0000"/>
<rect x="484.46" y="66.47" width="7.4" height="7.4" fill="#ff0000"/>
<rect x="496.59" y="56.14" width="7.4" height="7.4" fill="#ff0000"/>
<rect x="511.23" y="51.37" width="7.4" height="7.4" fill="#ff0000"/>
<path d="M522.6 67.15 L524.31 67.1 L526.01 67.08 L527.72 67.1 L529.43 67.14 L531.14 67.21 L532.85 67.31 L534.55 67.44 L536.26 67.61 L537.96 67.8 L539.67 68.02 L541.36 68.27 L543.06 68.55 L544.67 69.2 L546.27 69.88 L547.84 70.59 L549.41 71.32 L550.95 72.07 L552.47 72.86 L553.98 73.66 L555.47 74.5 L556.99 75.22 L558.49 75.98 L559.97 76.75 L561.44 77.56 L562.9 78.38 L564.33 79.23 L565.75 80.11 L567.15 81.01 L568.62 81.78 L570.08 82.57 L571.52 83.39 L572.94 84.24 L574.35 85.11 L575.75 86 L577.13 86.92 L578.5 87.86 L579.94 88.71 L581.36 89.58 L582.78 90.49 L584.18 91.41 L585.57 92.37 L586.94 93.35 L588.29 94.35 L589.63 95.38 L591.19 96.21 L592.74 97.07 L594.27 97.96 L595.8 98.89 L597.32 99.85 L598.82 100.84 L600.31 101.87 L601.8 102.93 L603.31 103.98 L604.82 105.07 L606.31 106.19 L607.78 107.34 L609.25 108.53 L610.69 109.75 L612.12 111.01 L613.53 112.3 L614.98 113.59 L616.41 114.92 L617.83 116.28 L619.22 117.68 L620.59 119.1 L621.95 120.57 L623.28 122.06 L624.59 123.59 L625.7 125.22 L626.79 126.88 L627.85 128.56 L628.88 130.27 L629.89 132 L630.86 133.76 L631.81 135.54 L632.73 137.34 L633.43 139.21 L634.11 141.1 L634.75 143 L635.36 144.92 L635.94 146.85 L636.48 148.8 L636.99 150.75 L637.47 152.73 L637.79 154.72 L638.07 156.73 L638.32 158.74 L638.53 160.75 L638.71 162.77 L638.85 164.8 L638.96 166.83 L639.03 168.87 L639.07 170.9 L639.07 172.94 L639.03 174.99 L638.96 177.03 L638.85 179.07 L638.71 181.12 L638.53 183.16 L638.31 185.2 L638.06 187.24 L637.78 189.28 L637.45 191.32 L637.09 193.35 L636.7 195.37 L636.27 197.39 L635.8 199.41 L635.3 201.42 L634.7 203.4 L634.07 205.37 L633.4 207.33 L632.7 209.28 L631.97 211.22 L631.2 213.15 L630.39 215.07 L629.56 216.97 L628.63 218.82 L627.67 220.67 L626.68 222.49 L625.66 224.3 L624.6 226.09 L623.52 227.86 L622.4 229.61 L621.26 231.34 L620.08 233.06 L618.87 234.75 L617.64 236.42 L616.37 238.06 L615.08 239.69 L613.76 241.29 L612.41 242.87 L611.03 244.43 L609.63 245.96 L608.2 247.46 L606.75 248.95 L605.26 250.4 L603.76 251.83 L602.23 253.23 L600.67 254.61 L599.09 255.96 L597.45 257.23 L595.79 258.47 L594.1 259.69 L592.4 260.87 L590.68 262.02 L588.93 263.14 L587.17 264.23 L585.4 265.29 L583.6 266.32 L581.79 267.32 L579.96 268.28 L578.12 269.21 L576.26 270.11 L574.38 270.97 L572.5 271.8 L570.59 272.6 L568.68 273.36 L566.76 274.09 L564.82 274.79 L562.87 275.45 L560.92 276.08 L558.95 276.67 L556.97 277.23 L554.99 277.75 L553 278.24 L551 278.69 L548.99 279.11 L546.98 279.49 L544.96 279.83 L542.94 280.15 L540.91 280.42 L538.88 280.66 L536.85 280.89 L534.82 281.08 L532.79 281.24 L530.75 281.37 L528.71 281.45 L526.68 281.5 L524.64 281.52 L522.6 281.5 L520.56 281.52 L518.52 281.5 L516.49 281.45 L514.45 281.37 L512.41 281.24 L510.38 281.08 L508.35 280.89 L506.32 280.66 L504.29 280.42 L502.26 280.15 L500.24 279.83 L498.22 279.49 L496.21 279.11 L494.2 278.69 L492.2 278.24 L490.21 277.75 L488.23 277.23 L486.25 276.67 L484.28 276.08 L482.33 275.45 L480.38 274.79 L478.44 274.09 L476.52 273.36 L474.61 272.6 L472.76 271.69 L470.93 270.75 L469.11 269.77 L467.32 268.77 L465.54 267.73 L463.79 266.67 L462.05 265.57 L460.33 264.45 L458.6 263.35 L456.88 262.23 L455.18 261.08 L453.51 259.9 L451.85 258.69 L450.21 257.45 L448.6 256.18 L447.01 254.89 L445.41 253.59 L443.84 252.27 L442.29 250.92 L440.77 249.54 L439.27 248.13 L437.79 246.7 L436.34 245.24 L434.91 243.76 L433.55 242.21 L432.23 240.63 L430.93 239.04 L429.65 237.42 L428.41 235.78 L427.2 234.11 L426.01 232.43 L424.86 230.73 L423.84 228.94 L422.85 227.13 L421.89 225.31 L420.97 223.48 L420.08 221.63 L419.23 219.76 L418.41 217.89 L417.62 216 L416.89 214.09 L416.19 212.17 L415.53 210.25 L414.91 208.31 L414.32 206.37 L413.76 204.41 L413.24 202.46 L412.75 200.49 L412.34 198.51 L411.96 196.53 L411.62 194.54 L411.31 192.55 L411.03 190.56 L410.8 188.56 L410.6 186.57 L410.43 184.58 L410.31 182.58 L410.23 180.59 L410.18 178.6 L410.17 176.62 L410.19 174.63 L410.25 172.66 L410.34 170.68 L410.47 168.72 L410.79 166.75 L411.15 164.8 L411.54 162.86 L411.97 160.94 L412.43 159.03 L412.92 157.13 L413.44 155.25 L414 153.39 L414.65 151.55 L415.33 149.72 L416.04 147.92 L416.78 146.14 L417.55 144.38 L418.35 142.64 L419.18 140.92 L420.04 139.23 L421.11 137.6 L422.2 136.01 L423.31 134.44 L424.45 132.91 L425.61 131.4 L426.8 129.93 L428 128.49 L429.23 127.08 L430.68 125.78 L432.14 124.52 L433.61 123.3 L435.1 122.12 L436.61 120.98 L438.12 119.88 L439.65 118.82 L441.19 117.8 L443.16 117.07 L445.13 116.39 L447.1 115.77 L449.06 115.2 L451.03 114.68 L452.98 114.22 L454.94 113.81 L456.88 113.45 L459.96 114.08 L463 114.79 L466 115.6 L468.94 116.49 L471.84 117.47 L474.69 118.54 L477.49 119.69 L480.23 120.92 L488.44 128.17 L496.38 135.68 L504.05 143.46 L506.3 145.85 L503.56 142.11 L499.81 136.66 L496.24 131.07 L492.87 125.34 L489.68 119.5 L488.76 116.47 L487.93 113.4 L487.2 110.29 L486.57 107.13 L486.03 103.94 L485.6 100.71 L485.27 97.45 L485.04 94.16 L485.78 92.54 L486.57 90.92 L487.4 89.3 L488.27 87.7 L489.19 86.1 L490.16 84.51 L491.17 82.92 L492.23 81.36 L493.41 80.02 L494.63 78.71 L495.88 77.41 L497.17 76.12 L498.5 74.86 L499.87 73.62 L501.27 72.39 L502.7 71.19 L504.3 70.65 L505.91 70.14 L507.53 69.65 L509.16 69.19 L510.81 68.76 L512.46 68.36 L514.13 67.98 L515.81 67.64 L517.5 67.47 L519.2 67.33 L520.9 67.23 Z" fill="none" stroke="#ff0000" stroke-width="1.15" stroke-linejoin="round"/>
<circle cx="529.43" cy="67.14" r="3.85" fill="#fff" stroke="#ff0000" stroke-width="1.15"/>
<circle cx="543.06" cy="68.55" r="3.85" fill="#fff" stroke="#ff0000" stroke-width="1.15"/>
<circle cx="555.47" cy="74.5" r="3.85" fill="#fff" stroke="#ff0000" stroke-width="1.15"/>
<circle cx="567.15" cy="81.01" r="3.85" fill="#fff" stroke="#ff0000" stroke-width="1.15"/>
<circle cx="578.5" cy="87.86" r="3.85" fill="#fff" stroke="#ff0000" stroke-width="1.15"/>
<circle cx="589.63" cy="95.38" r="3.85" fill="#fff" stroke="#ff0000" stroke-width="1.15"/>
<circle cx="601.8" cy="102.93" r="3.85" fill="#fff" stroke="#ff0000" stroke-width="1.15"/>
<circle cx="613.53" cy="112.3" r="3.85" fill="#fff" stroke="#ff0000" stroke-width="1.15"/>
<circle cx="624.59" cy="123.59" r="3.85" fill="#fff" stroke="#ff0000" stroke-width="1.15"/>
<circle cx="632.73" cy="137.34" r="3.85" fill="#fff" stroke="#ff0000" stroke-width="1.15"/>
<circle cx="637.47" cy="152.73" r="3.85" fill="#fff" stroke="#ff0000" stroke-width="1.15"/>
<circle cx="639.03" cy="168.87" r="3.85" fill="#fff" stroke="#ff0000" stroke-width="1.15"/>
<circle cx="638.31" cy="185.2" r="3.85" fill="#fff" stroke="#ff0000" stroke-width="1.15"/>
<circle cx="635.3" cy="201.42" r="3.85" fill="#fff" stroke="#ff0000" stroke-width="1.15"/>
<circle cx="629.56" cy="216.97" r="3.85" fill="#fff" stroke="#ff0000" stroke-width="1.15"/>
<circle cx="621.26" cy="231.34" r="3.85" fill="#fff" stroke="#ff0000" stroke-width="1.15"/>
<circle cx="611.03" cy="244.43" r="3.85" fill="#fff" stroke="#ff0000" stroke-width="1.15"/>
<circle cx="599.09" cy="255.96" r="3.85" fill="#fff" stroke="#ff0000" stroke-width="1.15"/>
<circle cx="585.4" cy="265.29" r="3.85" fill="#fff" stroke="#ff0000" stroke-width="1.15"/>
<circle cx="570.59" cy="272.6" r="3.85" fill="#fff" stroke="#ff0000" stroke-width="1.15"/>
<circle cx="554.99" cy="277.75" r="3.85" fill="#fff" stroke="#ff0000" stroke-width="1.15"/>
<circle cx="538.88" cy="280.66" r="3.85" fill="#fff" stroke="#ff0000" stroke-width="1.15"/>
<circle cx="522.6" cy="281.5" r="3.85" fill="#fff" stroke="#ff0000" stroke-width="1.15"/>
<circle cx="506.32" cy="280.66" r="3.85" fill="#fff" stroke="#ff0000" stroke-width="1.15"/>
<circle cx="490.21" cy="277.75" r="3.85" fill="#fff" stroke="#ff0000" stroke-width="1.15"/>
<circle cx="474.61" cy="272.6" r="3.85" fill="#fff" stroke="#ff0000" stroke-width="1.15"/>
<circle cx="460.33" cy="264.45" r="3.85" fill="#fff" stroke="#ff0000" stroke-width="1.15"/>
<circle cx="447.01" cy="254.89" r="3.85" fill="#fff" stroke="#ff0000" stroke-width="1.15"/>
<circle cx="434.91" cy="243.76" r="3.85" fill="#fff" stroke="#ff0000" stroke-width="1.15"/>
<circle cx="424.86" cy="230.73" r="3.85" fill="#fff" stroke="#ff0000" stroke-width="1.15"/>
<circle cx="417.62" cy="216" r="3.85" fill="#fff" stroke="#ff0000" stroke-width="1.15"/>
<circle cx="412.75" cy="200.49" r="3.85" fill="#fff" stroke="#ff0000" stroke-width="1.15"/>
<circle cx="410.43" cy="184.58" r="3.85" fill="#fff" stroke="#ff0000" stroke-width="1.15"/>
<circle cx="410.47" cy="168.72" r="3.85" fill="#fff" stroke="#ff0000" stroke-width="1.15"/>
<circle cx="414" cy="153.39" r="3.85" fill="#fff" stroke="#ff0000" stroke-width="1.15"/>
<circle cx="420.04" cy="139.23" r="3.85" fill="#fff" stroke="#ff0000" stroke-width="1.15"/>
<circle cx="429.23" cy="127.08" r="3.85" fill="#fff" stroke="#ff0000" stroke-width="1.15"/>
<circle cx="441.19" cy="117.8" r="3.85" fill="#fff" stroke="#ff0000" stroke-width="1.15"/>
<circle cx="456.88" cy="113.45" r="3.85" fill="#fff" stroke="#ff0000" stroke-width="1.15"/>
<circle cx="480.23" cy="120.92" r="3.85" fill="#fff" stroke="#ff0000" stroke-width="1.15"/>
<circle cx="489.68" cy="119.5" r="3.85" fill="#fff" stroke="#ff0000" stroke-width="1.15"/>
<circle cx="485.04" cy="94.16" r="3.85" fill="#fff" stroke="#ff0000" stroke-width="1.15"/>
<circle cx="492.23" cy="81.36" r="3.85" fill="#fff" stroke="#ff0000" stroke-width="1.15"/>
<circle cx="502.7" cy="71.19" r="3.85" fill="#fff" stroke="#ff0000" stroke-width="1.15"/>
<circle cx="515.81" cy="67.64" r="3.85" fill="#fff" stroke="#ff0000" stroke-width="1.15"/>
<path d="M522.6 62.9 L524.38 62.57 L526.18 62.26 L527.99 61.99 L529.81 61.75 L531.6 61.98 L533.38 62.24 L535.16 62.53 L536.93 62.85 L538.69 63.2 L540.45 63.59 L542.19 64 L543.93 64.44 L545.72 64.67 L547.5 64.93 L549.28 65.23 L551.06 65.55 L552.83 65.91 L554.61 66.29 L556.37 66.71 L558.14 67.17 L559.92 67.59 L561.69 68.05 L563.46 68.54 L565.23 69.06 L566.99 69.62 L568.74 70.2 L570.48 70.82 L572.22 71.47 L573.87 72.31 L575.5 73.17 L577.12 74.07 L578.72 74.99 L580.3 75.94 L581.87 76.92 L583.43 77.93 L584.96 78.96 L586.6 79.88 L588.21 80.82 L589.82 81.79 L591.41 82.79 L592.99 83.83 L594.55 84.89 L596.09 85.99 L597.62 87.11 L599.19 88.21 L600.74 89.34 L602.27 90.5 L603.79 91.7 L605.29 92.92 L606.77 94.17 L608.23 95.46 L609.68 96.77 L611.15 98.07 L612.6 99.41 L614.04 100.77 L615.45 102.17 L616.85 103.6 L618.22 105.05 L619.57 106.54 L620.89 108.05 L622.24 109.57 L623.57 111.12 L624.87 112.69 L626.14 114.3 L627.39 115.93 L628.62 117.6 L629.82 119.29 L630.99 121.01 L632.04 122.79 L633.06 124.6 L634.05 126.42 L635.01 128.27 L635.95 130.15 L636.85 132.04 L637.71 133.96 L638.55 135.89 L639.09 137.91 L639.59 139.93 L640.05 141.97 L640.48 144.01 L640.88 146.07 L641.23 148.13 L641.56 150.19 L641.84 152.27 L642.26 154.33 L642.63 156.41 L642.97 158.49 L643.28 160.59 L643.54 162.69 L643.77 164.8 L643.97 166.92 L644.13 169.04 L644.12 171.17 L644.08 173.29 L644 175.42 L643.88 177.55 L643.73 179.67 L643.54 181.8 L643.31 183.92 L643.04 186.04 L642.82 188.17 L642.57 190.3 L642.28 192.43 L641.95 194.56 L641.58 196.68 L641.17 198.8 L640.73 200.92 L640.25 203.03 L639.55 205.07 L638.82 207.1 L638.05 209.12 L637.25 211.12 L636.41 213.11 L635.54 215.08 L634.63 217.04 L633.69 218.98 L632.67 220.88 L631.62 222.77 L630.54 224.63 L629.42 226.47 L628.28 228.3 L627.1 230.1 L625.89 231.88 L624.65 233.64 L623.43 235.4 L622.17 237.14 L620.88 238.86 L619.56 240.56 L618.22 242.23 L616.84 243.88 L615.44 245.5 L614.01 247.1 L612.51 248.64 L610.99 250.16 L609.44 251.64 L607.87 253.1 L606.27 254.53 L604.65 255.93 L603.01 257.3 L601.34 258.64 L599.65 259.95 L597.94 261.23 L596.21 262.48 L594.46 263.7 L592.68 264.89 L590.89 266.05 L589.08 267.17 L587.25 268.26 L585.4 269.32 L583.54 270.35 L581.66 271.34 L579.76 272.3 L577.84 273.22 L575.92 274.12 L573.97 274.97 L572.02 275.8 L570.05 276.58 L568.07 277.34 L566.07 278.05 L564.07 278.74 L562.05 279.39 L560.03 280 L558 280.57 L555.95 281.11 L553.9 281.62 L551.84 282.08 L549.78 282.52 L547.71 282.91 L545.63 283.27 L543.55 283.59 L541.46 283.88 L539.37 284.13 L537.28 284.34 L535.18 284.52 L533.09 284.65 L530.99 284.76 L528.89 284.82 L526.79 284.85 L524.7 284.84 L522.6 284.8 L520.51 284.82 L518.41 284.8 L516.31 284.75 L514.22 284.66 L512.12 284.53 L510.03 284.37 L507.94 284.17 L505.86 283.93 L503.77 283.68 L501.69 283.4 L499.61 283.07 L497.54 282.72 L495.47 282.32 L493.41 281.89 L491.35 281.42 L489.3 280.92 L487.26 280.41 L485.22 279.85 L483.19 279.27 L481.16 278.64 L479.15 277.98 L477.15 277.29 L475.16 276.56 L473.18 275.8 L471.2 275.03 L469.23 274.23 L467.27 273.39 L465.32 272.52 L463.39 271.61 L461.48 270.67 L459.57 269.7 L457.68 268.69 L455.85 267.59 L454.03 266.46 L452.23 265.3 L450.45 264.11 L448.69 262.88 L446.95 261.63 L445.23 260.34 L443.54 259.02 L441.9 257.63 L440.3 256.21 L438.71 254.76 L437.16 253.28 L435.63 251.77 L434.12 250.24 L432.64 248.69 L431.19 247.1 L429.77 245.5 L428.38 243.86 L427.01 242.21 L425.67 240.53 L424.37 238.82 L423.09 237.1 L421.84 235.35 L420.63 233.58 L419.5 231.76 L418.4 229.91 L417.33 228.05 L416.3 226.18 L415.3 224.28 L414.33 222.37 L413.4 220.44 L412.5 218.5 L411.69 216.52 L410.92 214.52 L410.18 212.52 L409.48 210.5 L408.82 208.48 L408.19 206.44 L407.6 204.4 L407.05 202.35 L406.53 200.29 L406.05 198.22 L405.6 196.15 L405.19 194.07 L404.82 191.99 L404.49 189.91 L404.19 187.82 L403.93 185.72 L403.81 183.62 L403.72 181.51 L403.67 179.4 L403.66 177.3 L403.68 175.2 L403.74 173.11 L403.84 171.02 L403.97 168.94 L404.26 166.87 L404.58 164.8 L404.93 162.75 L405.32 160.7 L405.75 158.68 L406.21 156.66 L406.71 154.66 L407.24 152.67 L407.64 150.68 L408.08 148.7 L408.55 146.74 L409.05 144.78 L409.59 142.83 L410.16 140.9 L410.77 138.98 L411.4 137.08 L412.34 135.26 L413.3 133.46 L414.3 131.69 L415.32 129.94 L416.37 128.22 L417.45 126.53 L418.55 124.86 L419.68 123.22 L420.77 121.58 L421.88 119.96 L423.02 118.36 L424.18 116.8 L425.37 115.26 L426.58 113.74 L427.81 112.26 L429.07 110.8 L430.22 109.29 L431.39 107.81 L432.59 106.35 L433.81 104.91 L435.05 103.5 L436.32 102.11 L437.61 100.75 L438.91 99.42 L440.48 98.3 L442.05 97.21 L443.64 96.16 L445.24 95.14 L446.85 94.16 L448.47 93.22 L450.1 92.3 L451.74 91.43 L453.36 90.55 L454.98 89.71 L456.62 88.9 L458.26 88.12 L459.9 87.38 L461.56 86.67 L463.22 85.99 L464.88 85.35 L466.58 84.8 L468.29 84.28 L469.99 83.79 L471.7 83.34 L473.41 82.93 L475.11 82.55 L476.82 82.2 L478.52 81.89 L479.77 80.74 L481.05 79.62 L482.36 78.51 L483.7 77.42 L485.06 76.35 L486.44 75.3 L487.85 74.28 L489.29 73.27 L490.91 72.75 L492.53 72.26 L494.17 71.8 L495.81 71.37 L497.46 70.96 L499.11 70.58 L500.77 70.24 L502.43 69.92 L504.01 69.15 L505.6 68.41 L507.22 67.7 L508.86 67.01 L510.51 66.35 L512.19 65.72 L513.88 65.12 L515.59 64.54 L517.32 64.09 L519.07 63.66 L520.83 63.27 Z" fill="none" stroke="#ff0000" stroke-width="1.15" stroke-linejoin="round"/>
<path d="M529.81 56.45 L535.01 65.35 L524.61 65.35 Z" fill="#ff0000"/>
<path d="M543.93 59.14 L549.13 68.04 L538.73 68.04 Z" fill="#ff0000"/>
<path d="M558.14 61.87 L563.34 70.77 L552.94 70.77 Z" fill="#ff0000"/>
<path d="M572.22 66.17 L577.42 75.07 L567.02 75.07 Z" fill="#ff0000"/>
<path d="M584.96 73.66 L590.16 82.56 L579.76 82.56 Z" fill="#ff0000"/>
<path d="M597.62 81.81 L602.82 90.71 L592.42 90.71 Z" fill="#ff0000"/>
<path d="M609.68 91.47 L614.88 100.37 L604.48 100.37 Z" fill="#ff0000"/>
<path d="M620.89 102.75 L626.09 111.65 L615.69 111.65 Z" fill="#ff0000"/>
<path d="M630.99 115.71 L636.19 124.61 L625.79 124.61 Z" fill="#ff0000"/>
<path d="M638.55 130.59 L643.75 139.49 L633.35 139.49 Z" fill="#ff0000"/>
<path d="M641.84 146.97 L647.04 155.87 L636.64 155.87 Z" fill="#ff0000"/>
<path d="M644.13 163.74 L649.33 172.64 L638.93 172.64 Z" fill="#ff0000"/>
<path d="M643.04 180.74 L648.24 189.64 L637.84 189.64 Z" fill="#ff0000"/>
<path d="M640.25 197.73 L645.45 206.63 L635.05 206.63 Z" fill="#ff0000"/>
<path d="M633.69 213.68 L638.89 222.58 L628.49 222.58 Z" fill="#ff0000"/>
<path d="M624.65 228.34 L629.85 237.24 L619.45 237.24 Z" fill="#ff0000"/>
<path d="M614.01 241.8 L619.21 250.7 L608.81 250.7 Z" fill="#ff0000"/>
<path d="M601.34 253.34 L606.54 262.24 L596.14 262.24 Z" fill="#ff0000"/>
<path d="M587.25 262.96 L592.45 271.86 L582.05 271.86 Z" fill="#ff0000"/>
<path d="M572.02 270.5 L577.22 279.4 L566.82 279.4 Z" fill="#ff0000"/>
<path d="M555.95 275.81 L561.15 284.71 L550.75 284.71 Z" fill="#ff0000"/>
<path d="M539.37 278.83 L544.57 287.73 L534.17 287.73 Z" fill="#ff0000"/>
<path d="M522.6 279.5 L527.8 288.4 L517.4 288.4 Z" fill="#ff0000"/>
<path d="M505.86 278.63 L511.06 287.53 L500.66 287.53 Z" fill="#ff0000"/>
<path d="M489.3 275.62 L494.5 284.52 L484.1 284.52 Z" fill="#ff0000"/>
<path d="M473.18 270.5 L478.38 279.4 L467.98 279.4 Z" fill="#ff0000"/>
<path d="M457.68 263.39 L462.88 272.29 L452.48 272.29 Z" fill="#ff0000"/>
<path d="M443.54 253.72 L448.74 262.62 L438.34 262.62 Z" fill="#ff0000"/>
<path d="M431.19 241.8 L436.39 250.7 L425.99 250.7 Z" fill="#ff0000"/>
<path d="M420.63 228.28 L425.83 237.18 L415.43 237.18 Z" fill="#ff0000"/>
<path d="M412.5 213.2 L417.7 222.1 L407.3 222.1 Z" fill="#ff0000"/>
<path d="M407.05 197.05 L412.25 205.95 L401.85 205.95 Z" fill="#ff0000"/>
<path d="M403.93 180.42 L409.13 189.32 L398.73 189.32 Z" fill="#ff0000"/>
<path d="M403.97 163.64 L409.17 172.54 L398.77 172.54 Z" fill="#ff0000"/>
<path d="M407.24 147.37 L412.44 156.27 L402.04 156.27 Z" fill="#ff0000"/>
<path d="M411.4 131.78 L416.6 140.68 L406.2 140.68 Z" fill="#ff0000"/>
<path d="M419.68 117.92 L424.88 126.82 L414.48 126.82 Z" fill="#ff0000"/>
<path d="M429.07 105.5 L434.27 114.4 L423.87 114.4 Z" fill="#ff0000"/>
<path d="M438.91 94.12 L444.11 103.02 L433.71 103.02 Z" fill="#ff0000"/>
<path d="M451.74 86.13 L456.94 95.03 L446.54 95.03 Z" fill="#ff0000"/>
<path d="M464.88 80.05 L470.08 88.95 L459.68 88.95 Z" fill="#ff0000"/>
<path d="M478.52 76.59 L483.72 85.49 L473.32 85.49 Z" fill="#ff0000"/>
<path d="M489.29 67.97 L494.49 76.87 L484.09 76.87 Z" fill="#ff0000"/>
<path d="M502.43 64.62 L507.63 73.52 L497.23 73.52 Z" fill="#ff0000"/>
<path d="M515.59 59.24 L520.79 68.14 L510.39 68.14 Z" fill="#ff0000"/>
<path d="M522.6 38.8 L524.8 39.02 L526.98 39.28 L529.16 39.57 L531.33 39.9 L533.5 40.2 L535.66 40.53 L537.81 40.91 L539.95 41.31 L542.09 41.76 L544.21 42.24 L546.32 42.76 L548.42 43.31 L550.5 43.97 L552.56 44.65 L554.6 45.38 L556.63 46.13 L558.64 46.92 L560.63 47.75 L562.61 48.61 L564.57 49.5 L566.5 50.45 L568.41 51.43 L570.29 52.44 L572.16 53.48 L574.01 54.56 L575.83 55.66 L577.63 56.8 L579.41 57.96 L581.11 59.24 L582.79 60.55 L584.44 61.89 L586.06 63.25 L587.65 64.63 L589.21 66.04 L590.75 67.47 L592.25 68.93 L593.69 70.46 L595.09 72.01 L596.47 73.58 L597.81 75.17 L599.11 76.78 L600.39 78.41 L601.63 80.05 L602.83 81.72 L603.92 83.48 L604.96 85.26 L605.97 87.05 L606.95 88.85 L607.88 90.67 L608.78 92.49 L609.64 94.32 L610.46 96.15 L610.98 98.2 L611.45 100.25 L611.88 102.29 L612.26 104.32 L612.6 106.35 L612.9 108.38 L613.15 110.39 L613.36 112.4 L613.39 114.48 L613.37 116.54 L613.3 118.58 L613.2 120.61 L613.05 122.62 L612.86 124.61 L612.63 126.59 L612.35 128.54 L611.8 130.56 L611.21 132.55 L610.58 134.51 L609.91 136.43 L609.19 138.33 L608.44 140.19 L607.65 142.01 L606.82 143.8 L606.14 145.51 L605.42 147.2 L604.68 148.85 L603.9 150.47 L603.08 152.05 L602.24 153.61 L601.37 155.13 L600.47 156.62 L600.23 158.01 L599.96 159.39 L599.67 160.76 L599.35 162.12 L599.01 163.47 L598.65 164.8 L598.26 166.12 L597.85 167.43 L598.22 168.76 L598.56 170.11 L598.88 171.47 L599.18 172.85 L599.45 174.24 L599.69 175.63 L599.91 177.04 L600.1 178.47 L600.41 179.92 L600.68 181.4 L600.93 182.88 L601.15 184.38 L601.34 185.9 L601.5 187.42 L601.63 188.96 L601.73 190.51 L602.06 192.16 L602.36 193.83 L602.62 195.52 L602.85 197.22 L603.04 198.95 L603.2 200.68 L603.32 202.44 L603.4 204.21 L603.54 206.04 L603.63 207.89 L603.69 209.75 L603.7 211.62 L603.68 213.52 L603.61 215.42 L603.5 217.34 L603.35 219.27 L602.93 221.05 L602.47 222.83 L601.97 224.61 L601.44 226.4 L600.87 228.18 L600.26 229.96 L599.61 231.74 L598.92 233.52 L598.1 235.21 L597.25 236.89 L596.36 238.56 L595.43 240.22 L594.47 241.88 L593.48 243.52 L592.45 245.15 L591.38 246.77 L590.4 248.53 L589.38 250.28 L588.33 252.02 L587.23 253.75 L586.09 255.47 L584.91 257.18 L583.69 258.87 L582.43 260.54 L581.01 262.01 L579.56 263.46 L578.08 264.89 L576.57 266.29 L575.02 267.68 L573.44 269.04 L571.83 270.37 L570.19 271.68 L568.48 272.88 L566.74 274.05 L564.97 275.18 L563.18 276.29 L561.36 277.38 L559.52 278.43 L557.65 279.45 L555.76 280.44 L553.8 281.25 L551.83 282.04 L549.84 282.78 L547.83 283.5 L545.8 284.18 L543.76 284.82 L541.71 285.43 L539.63 286.01 L537.54 286.51 L535.44 286.98 L533.33 287.41 L531.2 287.8 L529.06 288.16 L526.92 288.47 L524.76 288.76 L522.6 289 L520.43 289.19 L518.25 289.35 L516.07 289.47 L513.88 289.55 L511.68 289.59 L509.48 289.59 L507.28 289.55 L505.08 289.47 L502.89 289.26 L500.7 289.01 L498.51 288.72 L496.33 288.39 L494.15 288.02 L491.98 287.62 L489.81 287.17 L487.65 286.69 L485.49 286.17 L483.35 285.61 L481.21 285.01 L479.08 284.38 L476.96 283.7 L474.85 282.99 L472.75 282.24 L470.66 281.46 L468.55 280.71 L466.46 279.91 L464.37 279.08 L462.3 278.21 L460.24 277.31 L458.19 276.37 L456.15 275.39 L454.13 274.37 L452.16 273.27 L450.2 272.14 L448.26 270.97 L446.33 269.77 L444.43 268.53 L442.55 267.26 L440.69 265.96 L438.84 264.62 L437.02 263.25 L435.21 261.85 L433.43 260.42 L431.67 258.96 L429.93 257.47 L428.22 255.94 L426.54 254.38 L424.88 252.79 L423.26 251.15 L421.67 249.49 L420.11 247.79 L418.58 246.07 L417.08 244.31 L415.61 242.53 L414.16 240.73 L412.75 238.89 L411.42 237 L410.13 235.08 L408.86 233.14 L407.64 231.18 L406.44 229.19 L405.28 227.18 L404.15 225.15 L403.06 223.1 L402.06 221.01 L401.1 218.9 L400.17 216.77 L399.28 214.62 L398.43 212.46 L397.62 210.29 L396.85 208.1 L396.11 205.9 L395.41 203.69 L394.75 201.46 L394.13 199.22 L393.55 196.98 L393.01 194.72 L392.51 192.45 L392.04 190.18 L391.62 187.9 L391.24 185.61 L390.89 183.31 L390.59 181.01 L390.33 178.7 L390.11 176.39 L389.92 174.08 L389.78 171.76 L389.68 169.44 L389.68 167.12 L389.73 164.8 L389.81 162.48 L389.93 160.17 L390.09 157.86 L390.3 155.55 L390.54 153.25 L390.83 150.95 L391.15 148.66 L391.51 146.38 L391.92 144.1 L392.36 141.84 L392.84 139.58 L393.36 137.33 L393.92 135.09 L394.52 132.87 L395.22 130.67 L395.95 128.48 L396.73 126.32 L397.54 124.16 L398.38 122.03 L399.27 119.91 L400.18 117.81 L401.14 115.73 L402.09 113.65 L403.09 111.59 L404.11 109.55 L405.17 107.53 L406.27 105.53 L407.4 103.55 L408.56 101.59 L409.76 99.65 L411.05 97.77 L412.37 95.92 L413.73 94.1 L415.12 92.3 L416.53 90.53 L417.97 88.78 L419.45 87.07 L420.95 85.38 L422.45 83.7 L423.97 82.04 L425.53 80.41 L427.11 78.82 L428.71 77.25 L430.34 75.71 L432 74.2 L433.68 72.72 L435.39 71.28 L437.12 69.86 L438.87 68.48 L440.64 67.13 L442.44 65.81 L444.26 64.53 L446.09 63.27 L447.95 62.05 L449.77 60.79 L451.61 59.55 L453.47 58.35 L455.35 57.18 L457.25 56.05 L459.17 54.94 L461.11 53.88 L463.07 52.84 L465.04 51.83 L467.03 50.86 L469.03 49.91 L471.05 49.01 L473.08 48.14 L475.13 47.3 L477.19 46.5 L479.27 45.74 L481.34 44.98 L483.43 44.25 L485.53 43.56 L487.65 42.91 L489.78 42.3 L491.91 41.72 L494.06 41.18 L496.22 40.67 L498.39 40.24 L500.57 39.85 L502.75 39.5 L504.95 39.18 L507.14 38.91 L509.34 38.67 L511.55 38.47 L513.75 38.31 L515.97 38.37 L518.19 38.48 L520.4 38.62 Z" fill="none" stroke="#0000ff" stroke-width="1.15" stroke-linejoin="round"/>
<circle cx="531.33" cy="39.9" r="4.55" fill="url(#sph)"/>
<circle cx="548.42" cy="43.31" r="4.55" fill="url(#sph)"/>
<circle cx="564.57" cy="49.5" r="4.55" fill="url(#sph)"/>
<circle cx="579.41" cy="57.96" r="4.55" fill="url(#sph)"/>
<circle cx="592.25" cy="68.93" r="4.55" fill="url(#sph)"/>
<circle cx="602.83" cy="81.72" r="4.55" fill="url(#sph)"/>
<circle cx="610.46" cy="96.15" r="4.55" fill="url(#sph)"/>
<circle cx="613.36" cy="112.4" r="4.55" fill="url(#sph)"/>
<circle cx="612.35" cy="128.54" r="4.55" fill="url(#sph)"/>
<circle cx="606.82" cy="143.8" r="4.55" fill="url(#sph)"/>
<circle cx="600.47" cy="156.62" r="4.55" fill="url(#sph)"/>
<circle cx="597.85" cy="167.43" r="4.55" fill="url(#sph)"/>
<circle cx="600.1" cy="178.47" r="4.55" fill="url(#sph)"/>
<circle cx="601.73" cy="190.51" r="4.55" fill="url(#sph)"/>
<circle cx="603.4" cy="204.21" r="4.55" fill="url(#sph)"/>
<circle cx="603.35" cy="219.27" r="4.55" fill="url(#sph)"/>
<circle cx="598.92" cy="233.52" r="4.55" fill="url(#sph)"/>
<circle cx="591.38" cy="246.77" r="4.55" fill="url(#sph)"/>
<circle cx="582.43" cy="260.54" r="4.55" fill="url(#sph)"/>
<circle cx="570.19" cy="271.68" r="4.55" fill="url(#sph)"/>
<circle cx="555.76" cy="280.44" r="4.55" fill="url(#sph)"/>
<circle cx="539.63" cy="286.01" r="4.55" fill="url(#sph)"/>
<circle cx="522.6" cy="289" r="4.55" fill="url(#sph)"/>
<circle cx="505.08" cy="289.47" r="4.55" fill="url(#sph)"/>
<circle cx="487.65" cy="286.69" r="4.55" fill="url(#sph)"/>
<circle cx="470.66" cy="281.46" r="4.55" fill="url(#sph)"/>
<circle cx="454.13" cy="274.37" r="4.55" fill="url(#sph)"/>
<circle cx="438.84" cy="264.62" r="4.55" fill="url(#sph)"/>
<circle cx="424.88" cy="252.79" r="4.55" fill="url(#sph)"/>
<circle cx="412.75" cy="238.89" r="4.55" fill="url(#sph)"/>
<circle cx="403.06" cy="223.1" r="4.55" fill="url(#sph)"/>
<circle cx="396.11" cy="205.9" r="4.55" fill="url(#sph)"/>
<circle cx="391.62" cy="187.9" r="4.55" fill="url(#sph)"/>
<circle cx="389.68" cy="169.44" r="4.55" fill="url(#sph)"/>
<circle cx="390.83" cy="150.95" r="4.55" fill="url(#sph)"/>
<circle cx="394.52" cy="132.87" r="4.55" fill="url(#sph)"/>
<circle cx="401.14" cy="115.73" r="4.55" fill="url(#sph)"/>
<circle cx="409.76" cy="99.65" r="4.55" fill="url(#sph)"/>
<circle cx="420.95" cy="85.38" r="4.55" fill="url(#sph)"/>
<circle cx="433.68" cy="72.72" r="4.55" fill="url(#sph)"/>
<circle cx="447.95" cy="62.05" r="4.55" fill="url(#sph)"/>
<circle cx="463.07" cy="52.84" r="4.55" fill="url(#sph)"/>
<circle cx="479.27" cy="45.74" r="4.55" fill="url(#sph)"/>
<circle cx="496.22" cy="40.67" r="4.55" fill="url(#sph)"/>
<circle cx="513.75" cy="38.31" r="4.55" fill="url(#sph)"/>
<path d="M522.6 36.4 L524.84 36.62 L527.07 36.88 L529.29 37.18 L531.5 37.51 L533.71 37.82 L535.91 38.17 L538.1 38.56 L540.28 38.99 L542.45 39.45 L544.61 39.95 L546.76 40.49 L548.9 41.06 L551.01 41.72 L553.11 42.42 L555.2 43.15 L557.26 43.92 L559.31 44.72 L561.34 45.56 L563.36 46.43 L565.35 47.34 L567.32 48.31 L569.26 49.32 L571.18 50.36 L573.08 51.43 L574.95 52.53 L576.8 53.66 L578.63 54.83 L580.44 56.02 L582.15 57.37 L583.83 58.76 L585.47 60.16 L587.09 61.59 L588.68 63.05 L590.23 64.53 L591.76 66.03 L593.25 67.56 L594.68 69.14 L596.08 70.75 L597.44 72.38 L598.77 74.02 L600.06 75.69 L601.32 77.37 L602.55 79.07 L603.74 80.78 L604.87 82.53 L605.97 84.29 L607.03 86.06 L608.06 87.85 L609.05 89.65 L610.01 91.46 L610.92 93.28 L611.8 95.11 L612.67 96.93 L613.49 98.76 L614.28 100.6 L615.04 102.45 L615.76 104.3 L616.44 106.16 L617.08 108.03 L617.69 109.9 L618.55 111.62 L619.37 113.35 L620.17 115.09 L620.93 116.84 L621.66 118.61 L622.36 120.38 L623.03 122.17 L623.66 123.97 L624.52 125.68 L625.36 127.4 L626.16 129.14 L626.93 130.9 L627.67 132.68 L628.39 134.47 L629.07 136.27 L629.72 138.09 L630.3 139.93 L630.86 141.79 L631.38 143.66 L631.86 145.53 L632.32 147.42 L632.74 149.32 L633.13 151.23 L633.49 153.15 L633.8 155.07 L634.08 157 L634.32 158.94 L634.53 160.89 L634.71 162.84 L634.85 164.8 L634.96 166.76 L635.03 168.73 L635.12 170.7 L635.18 172.67 L635.19 174.65 L635.18 176.63 L635.13 178.62 L635.04 180.6 L634.92 182.59 L634.77 184.58 L634.59 186.57 L634.38 188.56 L634.13 190.55 L633.84 192.54 L633.52 194.52 L633.17 196.51 L632.78 198.48 L632.35 200.46 L631.78 202.39 L631.18 204.32 L630.55 206.24 L629.88 208.14 L629.17 210.04 L628.43 211.92 L627.66 213.79 L626.86 215.65 L626.1 217.54 L625.31 219.41 L624.48 221.27 L623.62 223.12 L622.73 224.96 L621.8 226.79 L620.84 228.6 L619.85 230.39 L618.86 232.2 L617.84 234 L616.79 235.78 L615.7 237.54 L614.58 239.29 L613.43 241.02 L612.25 242.73 L611.03 244.43 L609.79 246.1 L608.51 247.76 L607.2 249.4 L605.85 251.01 L604.48 252.61 L603.08 254.18 L601.65 255.73 L600.18 257.26 L598.76 258.85 L597.31 260.43 L595.83 261.97 L594.31 263.5 L592.76 265 L591.19 266.48 L589.58 267.94 L587.94 269.36 L586.23 270.69 L584.49 271.99 L582.72 273.26 L580.93 274.51 L579.12 275.72 L577.28 276.9 L575.41 278.05 L573.52 279.18 L571.65 280.35 L569.74 281.49 L567.82 282.59 L565.87 283.67 L563.89 284.72 L561.89 285.73 L559.87 286.7 L557.83 287.65 L555.74 288.46 L553.63 289.24 L551.5 289.98 L549.36 290.69 L547.2 291.36 L545.03 291.99 L542.84 292.58 L540.64 293.14 L538.42 293.63 L536.19 294.09 L533.95 294.5 L531.7 294.88 L529.44 295.22 L527.16 295.52 L524.89 295.78 L522.6 296 L520.31 296.13 L518.01 296.22 L515.71 296.27 L513.41 296.28 L511.1 296.25 L508.79 296.18 L506.48 296.06 L504.17 295.91 L501.88 295.62 L499.59 295.29 L497.31 294.91 L495.03 294.5 L492.76 294.05 L490.5 293.56 L488.24 293.03 L486 292.46 L483.75 291.87 L481.52 291.24 L479.29 290.58 L477.08 289.87 L474.87 289.13 L472.68 288.35 L470.51 287.53 L468.34 286.67 L466.18 285.8 L464.02 284.9 L461.88 283.96 L459.76 282.98 L457.65 281.97 L455.56 280.91 L453.49 279.82 L451.43 278.69 L449.39 277.54 L447.36 276.35 L445.35 275.12 L443.37 273.86 L441.4 272.56 L439.45 271.22 L437.53 269.85 L435.63 268.45 L433.88 266.87 L432.15 265.25 L430.45 263.62 L428.79 261.95 L427.15 260.25 L425.54 258.53 L423.97 256.78 L422.42 255 L420.75 253.34 L419.11 251.64 L417.49 249.92 L415.9 248.16 L414.34 246.38 L412.82 244.56 L411.32 242.72 L409.85 240.85 L408.47 238.92 L407.12 236.96 L405.8 234.98 L404.52 232.98 L403.27 230.95 L402.06 228.89 L400.88 226.82 L399.73 224.73 L398.8 222.53 L397.9 220.32 L397.04 218.1 L396.22 215.86 L395.45 213.61 L394.71 211.35 L394.01 209.08 L393.35 206.8 L392.69 204.52 L392.06 202.23 L391.48 199.93 L390.93 197.63 L390.43 195.31 L389.96 192.99 L389.54 190.66 L389.16 188.33 L388.72 186 L388.32 183.67 L387.96 181.33 L387.64 178.98 L387.37 176.63 L387.13 174.27 L386.94 171.91 L386.78 169.54 L386.81 167.17 L386.88 164.8 L386.98 162.43 L387.13 160.07 L387.32 157.71 L387.55 155.36 L387.83 153.01 L388.14 150.67 L388.49 148.33 L388.89 146.01 L389.32 143.69 L389.8 141.38 L390.31 139.09 L390.87 136.8 L391.46 134.52 L392.1 132.26 L392.82 130.02 L393.57 127.8 L394.37 125.6 L395.21 123.41 L396.08 121.23 L396.99 119.08 L397.93 116.94 L398.91 114.83 L399.87 112.71 L400.87 110.6 L401.9 108.52 L402.97 106.45 L404.07 104.41 L405.21 102.38 L406.38 100.38 L407.59 98.4 L408.91 96.49 L410.25 94.6 L411.63 92.74 L413.04 90.9 L414.48 89.1 L415.95 87.32 L417.45 85.56 L418.98 83.84 L420.5 82.12 L422.06 80.43 L423.64 78.77 L425.25 77.14 L426.88 75.54 L428.55 73.97 L430.23 72.43 L431.95 70.93 L433.68 69.45 L435.45 68.01 L437.23 66.59 L439.04 65.21 L440.87 63.87 L442.72 62.56 L444.59 61.28 L446.48 60.03 L448.34 58.75 L450.23 57.5 L452.13 56.29 L454.05 55.1 L456 53.96 L457.96 52.84 L459.94 51.77 L461.94 50.72 L463.95 49.69 L465.97 48.7 L468.01 47.74 L470.07 46.82 L472.14 45.93 L474.23 45.08 L476.33 44.26 L478.45 43.49 L480.56 42.71 L482.69 41.97 L484.83 41.27 L486.99 40.6 L489.15 39.98 L491.33 39.39 L493.52 38.84 L495.72 38.33 L497.93 37.89 L500.15 37.49 L502.38 37.13 L504.61 36.81 L506.85 36.53 L509.09 36.28 L511.34 36.08 L513.59 35.91 L515.85 35.98 L518.1 36.08 L520.36 36.22 Z" fill="none" stroke="#0000ff" stroke-width="1.15" stroke-linejoin="round"/>
<path d="M531.5 32.41 L536.6 37.51 L531.5 42.61 L526.4 37.51 Z" fill="#fff" stroke="#0000ff" stroke-width="1"/>
<path d="M548.9 35.96 L554 41.06 L548.9 46.16 L543.8 41.06 Z" fill="#fff" stroke="#0000ff" stroke-width="1"/>
<path d="M565.35 42.24 L570.45 47.34 L565.35 52.44 L560.25 47.34 Z" fill="#fff" stroke="#0000ff" stroke-width="1"/>
<path d="M580.44 50.92 L585.54 56.02 L580.44 61.12 L575.34 56.02 Z" fill="#fff" stroke="#0000ff" stroke-width="1"/>
<path d="M593.25 62.46 L598.35 67.56 L593.25 72.66 L588.15 67.56 Z" fill="#fff" stroke="#0000ff" stroke-width="1"/>
<path d="M603.74 75.68 L608.84 80.78 L603.74 85.88 L598.64 80.78 Z" fill="#fff" stroke="#0000ff" stroke-width="1"/>
<path d="M611.8 90.01 L616.9 95.11 L611.8 100.21 L606.7 95.11 Z" fill="#fff" stroke="#0000ff" stroke-width="1"/>
<path d="M617.69 104.8 L622.79 109.9 L617.69 115 L612.59 109.9 Z" fill="#fff" stroke="#0000ff" stroke-width="1"/>
<path d="M623.66 118.87 L628.76 123.97 L623.66 129.07 L618.56 123.97 Z" fill="#fff" stroke="#0000ff" stroke-width="1"/>
<path d="M629.72 132.99 L634.82 138.09 L629.72 143.19 L624.62 138.09 Z" fill="#fff" stroke="#0000ff" stroke-width="1"/>
<path d="M633.49 148.05 L638.59 153.15 L633.49 158.25 L628.39 153.15 Z" fill="#fff" stroke="#0000ff" stroke-width="1"/>
<path d="M635.03 163.63 L640.13 168.73 L635.03 173.83 L629.93 168.73 Z" fill="#fff" stroke="#0000ff" stroke-width="1"/>
<path d="M634.77 179.48 L639.87 184.58 L634.77 189.68 L629.67 184.58 Z" fill="#fff" stroke="#0000ff" stroke-width="1"/>
<path d="M632.35 195.36 L637.45 200.46 L632.35 205.56 L627.25 200.46 Z" fill="#fff" stroke="#0000ff" stroke-width="1"/>
<path d="M626.86 210.55 L631.96 215.65 L626.86 220.75 L621.76 215.65 Z" fill="#fff" stroke="#0000ff" stroke-width="1"/>
<path d="M619.85 225.29 L624.95 230.39 L619.85 235.49 L614.75 230.39 Z" fill="#fff" stroke="#0000ff" stroke-width="1"/>
<path d="M611.03 239.33 L616.13 244.43 L611.03 249.53 L605.93 244.43 Z" fill="#fff" stroke="#0000ff" stroke-width="1"/>
<path d="M600.18 252.16 L605.28 257.26 L600.18 262.36 L595.08 257.26 Z" fill="#fff" stroke="#0000ff" stroke-width="1"/>
<path d="M587.94 264.26 L593.04 269.36 L587.94 274.46 L582.84 269.36 Z" fill="#fff" stroke="#0000ff" stroke-width="1"/>
<path d="M573.52 274.08 L578.62 279.18 L573.52 284.28 L568.42 279.18 Z" fill="#fff" stroke="#0000ff" stroke-width="1"/>
<path d="M557.83 282.55 L562.93 287.65 L557.83 292.75 L552.73 287.65 Z" fill="#fff" stroke="#0000ff" stroke-width="1"/>
<path d="M540.64 288.04 L545.74 293.14 L540.64 298.24 L535.54 293.14 Z" fill="#fff" stroke="#0000ff" stroke-width="1"/>
<path d="M522.6 290.9 L527.7 296 L522.6 301.1 L517.5 296 Z" fill="#fff" stroke="#0000ff" stroke-width="1"/>
<path d="M504.17 290.81 L509.27 295.91 L504.17 301.01 L499.07 295.91 Z" fill="#fff" stroke="#0000ff" stroke-width="1"/>
<path d="M486 287.36 L491.1 292.46 L486 297.56 L480.9 292.46 Z" fill="#fff" stroke="#0000ff" stroke-width="1"/>
<path d="M468.34 281.57 L473.44 286.67 L468.34 291.77 L463.24 286.67 Z" fill="#fff" stroke="#0000ff" stroke-width="1"/>
<path d="M451.43 273.59 L456.53 278.69 L451.43 283.79 L446.33 278.69 Z" fill="#fff" stroke="#0000ff" stroke-width="1"/>
<path d="M435.63 263.35 L440.73 268.45 L435.63 273.55 L430.53 268.45 Z" fill="#fff" stroke="#0000ff" stroke-width="1"/>
<path d="M422.42 249.9 L427.52 255 L422.42 260.1 L417.32 255 Z" fill="#fff" stroke="#0000ff" stroke-width="1"/>
<path d="M409.85 235.75 L414.95 240.85 L409.85 245.95 L404.75 240.85 Z" fill="#fff" stroke="#0000ff" stroke-width="1"/>
<path d="M399.73 219.63 L404.83 224.73 L399.73 229.83 L394.63 224.73 Z" fill="#fff" stroke="#0000ff" stroke-width="1"/>
<path d="M393.35 201.7 L398.45 206.8 L393.35 211.9 L388.25 206.8 Z" fill="#fff" stroke="#0000ff" stroke-width="1"/>
<path d="M389.16 183.23 L394.26 188.33 L389.16 193.43 L384.06 188.33 Z" fill="#fff" stroke="#0000ff" stroke-width="1"/>
<path d="M386.78 164.44 L391.88 169.54 L386.78 174.64 L381.68 169.54 Z" fill="#fff" stroke="#0000ff" stroke-width="1"/>
<path d="M388.14 145.57 L393.24 150.67 L388.14 155.77 L383.04 150.67 Z" fill="#fff" stroke="#0000ff" stroke-width="1"/>
<path d="M392.1 127.16 L397.2 132.26 L392.1 137.36 L387 132.26 Z" fill="#fff" stroke="#0000ff" stroke-width="1"/>
<path d="M398.91 109.73 L404.01 114.83 L398.91 119.93 L393.81 114.83 Z" fill="#fff" stroke="#0000ff" stroke-width="1"/>
<path d="M407.59 93.3 L412.69 98.4 L407.59 103.5 L402.49 98.4 Z" fill="#fff" stroke="#0000ff" stroke-width="1"/>
<path d="M418.98 78.74 L424.08 83.84 L418.98 88.94 L413.88 83.84 Z" fill="#fff" stroke="#0000ff" stroke-width="1"/>
<path d="M431.95 65.83 L437.05 70.93 L431.95 76.03 L426.85 70.93 Z" fill="#fff" stroke="#0000ff" stroke-width="1"/>
<path d="M446.48 54.93 L451.58 60.03 L446.48 65.13 L441.38 60.03 Z" fill="#fff" stroke="#0000ff" stroke-width="1"/>
<path d="M461.94 45.62 L467.04 50.72 L461.94 55.82 L456.84 50.72 Z" fill="#fff" stroke="#0000ff" stroke-width="1"/>
<path d="M478.45 38.39 L483.55 43.49 L478.45 48.59 L473.35 43.49 Z" fill="#fff" stroke="#0000ff" stroke-width="1"/>
<path d="M495.72 33.23 L500.82 38.33 L495.72 43.43 L490.62 38.33 Z" fill="#fff" stroke="#0000ff" stroke-width="1"/>
<path d="M513.59 30.81 L518.69 35.91 L513.59 41.01 L508.49 35.91 Z" fill="#fff" stroke="#0000ff" stroke-width="1"/>
<path d="M522.6 53.6 L524.54 53.62 L526.48 53.67 L528.42 53.75 L530.36 53.87 L532.29 54.06 L534.22 54.28 L536.14 54.54 L538.06 54.83 L539.97 55.15 L541.87 55.51 L543.77 55.9 L545.66 56.32 L547.54 56.79 L549.4 57.29 L551.26 57.82 L553.11 58.39 L554.95 58.98 L556.78 59.61 L558.59 60.27 L560.39 60.96 L562.19 61.67 L563.97 62.42 L565.73 63.19 L567.48 63.99 L569.22 64.82 L570.94 65.69 L572.65 66.58 L574.34 67.5 L576 68.47 L577.64 69.47 L579.26 70.5 L580.86 71.56 L582.45 72.64 L584.01 73.75 L585.56 74.89 L587.08 76.05 L588.58 77.24 L590.06 78.45 L591.52 79.69 L592.95 80.96 L594.36 82.24 L595.75 83.56 L597.12 84.89 L598.46 86.25 L599.75 87.65 L601.03 89.06 L602.27 90.5 L603.49 91.97 L604.68 93.45 L605.85 94.95 L606.99 96.46 L608.1 98 L609.11 99.61 L610.1 101.23 L611.05 102.87 L611.97 104.52 L612.86 106.18 L613.72 107.86 L614.55 109.55 L615.35 111.25 L616.15 112.94 L616.92 114.65 L617.66 116.36 L618.37 118.09 L619.04 119.83 L619.69 121.57 L620.3 123.33 L620.88 125.09 L621.43 126.86 L621.95 128.64 L622.43 130.42 L622.89 132.21 L623.31 134.01 L623.7 135.81 L624.06 137.61 L624.38 139.42 L624.81 141.2 L625.21 142.99 L625.57 144.78 L625.91 146.58 L626.21 148.39 L626.48 150.2 L626.72 152.02 L626.93 153.83 L626.94 155.67 L626.92 157.51 L626.87 159.34 L626.79 161.16 L626.67 162.98 L626.52 164.8 L626.35 166.61 L626.14 168.42 L625.83 170.21 L625.5 172 L625.13 173.77 L624.74 175.54 L624.31 177.29 L623.85 179.03 L623.37 180.76 L622.85 182.48 L622.55 184.23 L622.22 185.98 L621.86 187.72 L621.47 189.45 L621.05 191.18 L620.6 192.9 L620.12 194.61 L619.61 196.32 L619.02 198 L618.4 199.67 L617.76 201.33 L617.08 202.97 L616.38 204.61 L615.64 206.23 L614.88 207.83 L614.1 209.43 L613.27 211 L612.42 212.56 L611.54 214.1 L610.63 215.62 L609.7 217.13 L608.74 218.63 L607.76 220.1 L606.75 221.56 L605.8 223.05 L604.82 224.53 L603.81 226 L602.78 227.44 L601.72 228.87 L600.64 230.28 L599.53 231.68 L598.4 233.05 L597.34 234.49 L596.24 235.92 L595.12 237.32 L593.98 238.71 L592.8 240.08 L591.6 241.44 L590.38 242.77 L589.13 244.09 L587.8 245.31 L586.44 246.52 L585.07 247.7 L583.67 248.86 L582.25 249.99 L580.81 251.1 L579.35 252.19 L577.87 253.25 L576.43 254.4 L574.98 255.52 L573.49 256.61 L571.99 257.69 L570.46 258.73 L568.91 259.76 L567.34 260.76 L565.75 261.73 L564.16 262.71 L562.54 263.66 L560.91 264.59 L559.25 265.49 L557.57 266.36 L555.87 267.21 L554.16 268.02 L552.42 268.81 L550.65 269.49 L548.87 270.15 L547.07 270.77 L545.25 271.37 L543.42 271.93 L541.58 272.46 L539.73 272.96 L537.87 273.43 L536.01 274.03 L534.14 274.6 L532.25 275.13 L530.35 275.63 L528.43 276.1 L526.5 276.53 L524.56 276.93 L522.6 277.3 L520.63 277.71 L518.64 278.08 L516.65 278.42 L514.63 278.72 L512.61 278.99 L510.57 279.22 L508.53 279.41 L506.47 279.57 L504.44 279.46 L502.41 279.31 L500.38 279.12 L498.35 278.9 L496.32 278.64 L494.29 278.35 L492.26 278.02 L490.24 277.65 L488.21 277.27 L486.19 276.86 L484.17 276.41 L482.16 275.92 L480.15 275.39 L478.14 274.83 L476.15 274.24 L474.16 273.6 L472.16 272.97 L470.17 272.3 L468.19 271.59 L466.22 270.84 L464.25 270.06 L462.3 269.24 L460.36 268.39 L458.43 267.5 L456.48 266.61 L454.55 265.69 L452.62 264.74 L450.71 263.74 L448.82 262.71 L446.94 261.65 L445.07 260.54 L443.22 259.41 L441.26 258.37 L439.31 257.3 L437.38 256.19 L435.46 255.04 L433.55 253.85 L431.66 252.62 L429.78 251.35 L427.92 250.05 L426.24 248.56 L424.58 247.04 L422.95 245.49 L421.34 243.91 L419.76 242.3 L418.2 240.65 L416.66 238.98 L415.16 237.27 L413.85 235.43 L412.57 233.56 L411.32 231.66 L410.1 229.75 L408.92 227.81 L407.77 225.85 L406.66 223.88 L405.58 221.88 L404.59 219.83 L403.63 217.77 L402.72 215.69 L401.83 213.59 L400.99 211.48 L400.18 209.36 L399.41 207.22 L398.68 205.06 L398.09 202.87 L397.54 200.66 L397.03 198.45 L396.56 196.23 L396.13 194 L395.73 191.77 L395.38 189.53 L395.07 187.29 L394.63 185.07 L394.24 182.84 L393.88 180.6 L393.56 178.36 L393.28 176.11 L393.04 173.86 L392.84 171.6 L392.68 169.34 L392.64 167.07 L392.65 164.8 L392.69 162.53 L392.78 160.27 L392.9 158 L393.07 155.74 L393.27 153.49 L393.51 151.23 L393.89 149 L394.31 146.77 L394.77 144.55 L395.26 142.35 L395.8 140.15 L396.37 137.97 L396.98 135.8 L397.63 133.64 L398.38 131.52 L399.17 129.41 L400 127.32 L400.86 125.25 L401.76 123.19 L402.7 121.16 L403.66 119.14 L404.66 117.15 L405.64 115.15 L406.65 113.17 L407.69 111.22 L408.77 109.28 L409.88 107.36 L411.02 105.47 L412.19 103.6 L413.39 101.75 L414.75 100 L416.13 98.27 L417.54 96.57 L418.97 94.9 L420.43 93.26 L421.92 91.65 L423.43 90.07 L424.97 88.52 L426.46 86.95 L427.97 85.4 L429.52 83.88 L431.08 82.4 L432.67 80.94 L434.28 79.51 L435.92 78.12 L437.57 76.75 L439.31 75.48 L441.07 74.25 L442.84 73.05 L444.63 71.88 L446.44 70.75 L448.26 69.65 L450.1 68.58 L451.95 67.56 L453.88 66.66 L455.82 65.79 L457.77 64.97 L459.73 64.18 L461.69 63.43 L463.66 62.72 L465.64 62.04 L467.62 61.41 L469.6 60.77 L471.57 60.18 L473.56 59.62 L475.54 59.1 L477.53 58.62 L479.52 58.17 L481.51 57.77 L483.51 57.39 L485.46 56.95 L487.43 56.55 L489.39 56.18 L491.36 55.84 L493.32 55.54 L495.29 55.28 L497.26 55.05 L499.23 54.86 L501.18 54.61 L503.13 54.4 L505.09 54.23 L507.04 54.09 L508.99 53.98 L510.95 53.91 L512.9 53.87 L514.84 53.87 L516.78 53.75 L518.72 53.67 L520.66 53.62 Z" fill="none" stroke="#0000ff" stroke-width="1.15" stroke-linejoin="round"/>
<path d="M530.36 48.37 L531.68 52.05 L535.59 52.17 L532.5 54.57 L533.59 58.32 L530.36 56.13 L527.12 58.32 L528.21 54.57 L525.13 52.17 L529.03 52.05 Z" fill="#0000ff"/>
<path d="M545.66 50.82 L546.98 54.5 L550.89 54.62 L547.8 57.02 L548.89 60.77 L545.66 58.58 L542.42 60.77 L543.51 57.02 L540.43 54.62 L544.33 54.5 Z" fill="#0000ff"/>
<path d="M560.39 55.46 L561.72 59.14 L565.62 59.26 L562.54 61.66 L563.63 65.41 L560.39 63.22 L557.16 65.41 L558.25 61.66 L555.16 59.26 L559.07 59.14 Z" fill="#0000ff"/>
<path d="M574.34 62 L575.66 65.67 L579.57 65.8 L576.48 68.2 L577.57 71.95 L574.34 69.75 L571.1 71.95 L572.19 68.2 L569.1 65.8 L573.01 65.67 Z" fill="#0000ff"/>
<path d="M587.08 70.55 L588.41 74.23 L592.31 74.35 L589.22 76.75 L590.31 80.5 L587.08 78.31 L583.85 80.5 L584.94 76.75 L581.85 74.35 L585.75 74.23 Z" fill="#0000ff"/>
<path d="M598.46 80.75 L599.78 84.42 L603.69 84.55 L600.6 86.94 L601.69 90.7 L598.46 88.5 L595.22 90.7 L596.31 86.94 L593.23 84.55 L597.13 84.42 Z" fill="#0000ff"/>
<path d="M608.1 92.5 L609.42 96.18 L613.33 96.3 L610.24 98.7 L611.33 102.45 L608.1 100.26 L604.87 102.45 L605.95 98.7 L602.87 96.3 L606.77 96.18 Z" fill="#0000ff"/>
<path d="M615.35 105.75 L616.68 109.43 L620.58 109.55 L617.5 111.95 L618.58 115.7 L615.35 113.5 L612.12 115.7 L613.21 111.95 L610.12 109.55 L614.03 109.43 Z" fill="#0000ff"/>
<path d="M620.88 119.59 L622.21 123.27 L626.11 123.39 L623.03 125.79 L624.11 129.54 L620.88 127.35 L617.65 129.54 L618.74 125.79 L615.65 123.39 L619.56 123.27 Z" fill="#0000ff"/>
<path d="M624.38 133.92 L625.71 137.6 L629.61 137.72 L626.53 140.12 L627.62 143.87 L624.38 141.68 L621.15 143.87 L622.24 140.12 L619.15 137.72 L623.06 137.6 Z" fill="#0000ff"/>
<path d="M626.93 148.33 L628.25 152.01 L632.16 152.14 L629.07 154.53 L630.16 158.28 L626.93 156.09 L623.69 158.28 L624.78 154.53 L621.69 152.14 L625.6 152.01 Z" fill="#0000ff"/>
<path d="M626.14 162.92 L627.46 166.59 L631.37 166.72 L628.28 169.11 L629.37 172.87 L626.14 170.67 L622.9 172.87 L623.99 169.11 L620.91 166.72 L624.81 166.59 Z" fill="#0000ff"/>
<path d="M622.85 176.98 L624.18 180.65 L628.08 180.78 L625 183.17 L626.09 186.93 L622.85 184.73 L619.62 186.93 L620.71 183.17 L617.62 180.78 L621.53 180.65 Z" fill="#0000ff"/>
<path d="M619.61 190.82 L620.93 194.5 L624.84 194.62 L621.75 197.02 L622.84 200.77 L619.61 198.57 L616.37 200.77 L617.46 197.02 L614.38 194.62 L618.28 194.5 Z" fill="#0000ff"/>
<path d="M614.1 203.93 L615.42 207.6 L619.33 207.73 L616.24 210.12 L617.33 213.88 L614.1 211.68 L610.86 213.88 L611.95 210.12 L608.87 207.73 L612.77 207.6 Z" fill="#0000ff"/>
<path d="M606.75 216.06 L608.07 219.73 L611.98 219.86 L608.89 222.25 L609.98 226.01 L606.75 223.81 L603.51 226.01 L604.6 222.25 L601.52 219.86 L605.42 219.73 Z" fill="#0000ff"/>
<path d="M598.4 227.55 L599.73 231.23 L603.63 231.35 L600.55 233.75 L601.63 237.5 L598.4 235.31 L595.17 237.5 L596.26 233.75 L593.17 231.35 L597.08 231.23 Z" fill="#0000ff"/>
<path d="M589.13 238.59 L590.45 242.26 L594.36 242.39 L591.27 244.78 L592.36 248.54 L589.13 246.34 L585.9 248.54 L586.98 244.78 L583.9 242.39 L587.8 242.26 Z" fill="#0000ff"/>
<path d="M577.87 247.75 L579.2 251.43 L583.1 251.55 L580.02 253.95 L581.1 257.7 L577.87 255.51 L574.64 257.7 L575.73 253.95 L572.64 251.55 L576.55 251.43 Z" fill="#0000ff"/>
<path d="M565.75 256.23 L567.08 259.9 L570.99 260.03 L567.9 262.42 L568.99 266.18 L565.75 263.98 L562.52 266.18 L563.61 262.42 L560.52 260.03 L564.43 259.9 Z" fill="#0000ff"/>
<path d="M552.42 263.31 L553.75 266.98 L557.65 267.11 L554.57 269.51 L555.66 273.26 L552.42 271.06 L549.19 273.26 L550.28 269.51 L547.19 267.11 L551.1 266.98 Z" fill="#0000ff"/>
<path d="M537.87 267.93 L539.19 271.61 L543.1 271.73 L540.01 274.13 L541.1 277.88 L537.87 275.69 L534.63 277.88 L535.72 274.13 L532.64 271.73 L536.54 271.61 Z" fill="#0000ff"/>
<path d="M522.6 271.8 L523.93 275.48 L527.83 275.6 L524.74 278 L525.83 281.75 L522.6 279.56 L519.37 281.75 L520.46 278 L517.37 275.6 L521.27 275.48 Z" fill="#0000ff"/>
<path d="M506.47 274.07 L507.8 277.75 L511.7 277.87 L508.61 280.27 L509.7 284.02 L506.47 281.83 L503.24 284.02 L504.33 280.27 L501.24 277.87 L505.14 277.75 Z" fill="#0000ff"/>
<path d="M490.24 272.15 L491.57 275.83 L495.47 275.95 L492.38 278.35 L493.47 282.1 L490.24 279.91 L487.01 282.1 L488.1 278.35 L485.01 275.95 L488.91 275.83 Z" fill="#0000ff"/>
<path d="M474.16 268.1 L475.48 271.78 L479.39 271.9 L476.3 274.3 L477.39 278.05 L474.16 275.86 L470.92 278.05 L472.01 274.3 L468.93 271.9 L472.83 271.78 Z" fill="#0000ff"/>
<path d="M458.43 262 L459.75 265.67 L463.66 265.8 L460.57 268.2 L461.66 271.95 L458.43 269.75 L455.19 271.95 L456.28 268.2 L453.2 265.8 L457.1 265.67 Z" fill="#0000ff"/>
<path d="M443.22 253.91 L444.54 257.58 L448.45 257.71 L445.36 260.1 L446.45 263.86 L443.22 261.66 L439.98 263.86 L441.07 260.1 L437.98 257.71 L441.89 257.58 Z" fill="#0000ff"/>
<path d="M427.92 244.55 L429.25 248.22 L433.15 248.35 L430.07 250.74 L431.16 254.5 L427.92 252.3 L424.69 254.5 L425.78 250.74 L422.69 248.35 L426.6 248.22 Z" fill="#0000ff"/>
<path d="M415.16 231.77 L416.48 235.45 L420.39 235.57 L417.3 237.97 L418.39 241.72 L415.16 239.53 L411.92 241.72 L413.01 237.97 L409.93 235.57 L413.83 235.45 Z" fill="#0000ff"/>
<path d="M405.58 216.38 L406.9 220.05 L410.81 220.18 L407.72 222.57 L408.81 226.33 L405.58 224.13 L402.34 226.33 L403.43 222.57 L400.35 220.18 L404.25 220.05 Z" fill="#0000ff"/>
<path d="M398.68 199.56 L400 203.24 L403.91 203.37 L400.82 205.76 L401.91 209.51 L398.68 207.32 L395.44 209.51 L396.53 205.76 L393.45 203.37 L397.35 203.24 Z" fill="#0000ff"/>
<path d="M395.07 181.79 L396.39 185.46 L400.3 185.59 L397.21 187.98 L398.3 191.74 L395.07 189.54 L391.83 191.74 L392.92 187.98 L389.84 185.59 L393.74 185.46 Z" fill="#0000ff"/>
<path d="M392.68 163.84 L394 167.51 L397.91 167.64 L394.82 170.03 L395.91 173.79 L392.68 171.59 L389.45 173.79 L390.53 170.03 L387.45 167.64 L391.35 167.51 Z" fill="#0000ff"/>
<path d="M393.51 145.73 L394.84 149.41 L398.74 149.53 L395.66 151.93 L396.74 155.68 L393.51 153.49 L390.28 155.68 L391.37 151.93 L388.28 149.53 L392.19 149.41 Z" fill="#0000ff"/>
<path d="M397.63 128.14 L398.95 131.82 L402.86 131.94 L399.77 134.34 L400.86 138.09 L397.63 135.9 L394.39 138.09 L395.48 134.34 L392.4 131.94 L396.3 131.82 Z" fill="#0000ff"/>
<path d="M404.66 111.65 L405.99 115.33 L409.89 115.45 L406.81 117.85 L407.9 121.6 L404.66 119.41 L401.43 121.6 L402.52 117.85 L399.43 115.45 L403.34 115.33 Z" fill="#0000ff"/>
<path d="M413.39 96.25 L414.72 99.93 L418.63 100.05 L415.54 102.45 L416.63 106.2 L413.39 104 L410.16 106.2 L411.25 102.45 L408.16 100.05 L412.07 99.93 Z" fill="#0000ff"/>
<path d="M424.97 83.02 L426.29 86.7 L430.2 86.82 L427.11 89.22 L428.2 92.97 L424.97 90.77 L421.73 92.97 L422.82 89.22 L419.73 86.82 L423.64 86.7 Z" fill="#0000ff"/>
<path d="M437.57 71.25 L438.9 74.93 L442.8 75.05 L439.72 77.45 L440.81 81.2 L437.57 79.01 L434.34 81.2 L435.43 77.45 L432.34 75.05 L436.25 74.93 Z" fill="#0000ff"/>
<path d="M451.95 62.06 L453.27 65.73 L457.18 65.86 L454.09 68.25 L455.18 72.01 L451.95 69.81 L448.72 72.01 L449.8 68.25 L446.72 65.86 L450.62 65.73 Z" fill="#0000ff"/>
<path d="M467.62 55.91 L468.95 59.58 L472.86 59.71 L469.77 62.1 L470.86 65.86 L467.62 63.66 L464.39 65.86 L465.48 62.1 L462.39 59.71 L466.3 59.58 Z" fill="#0000ff"/>
<path d="M483.51 51.89 L484.83 55.57 L488.74 55.69 L485.65 58.09 L486.74 61.84 L483.51 59.65 L480.27 61.84 L481.36 58.09 L478.28 55.69 L482.18 55.57 Z" fill="#0000ff"/>
<path d="M499.23 49.36 L500.56 53.03 L504.46 53.16 L501.38 55.55 L502.46 59.31 L499.23 57.11 L496 59.31 L497.09 55.55 L494 53.16 L497.91 53.03 Z" fill="#0000ff"/>
<path d="M514.84 48.37 L516.17 52.05 L520.07 52.17 L516.99 54.57 L518.08 58.32 L514.84 56.13 L511.61 58.32 L512.7 54.57 L509.61 52.17 L513.52 52.05 Z" fill="#0000ff"/>
</g>
<text x="24.2" y="337.9" font-size="16.7" text-anchor="start" font-weight="normal" >Sim.</text><text x="111.6" y="337.9" font-size="16.7" text-anchor="start" font-weight="normal" >LHCP</text><text x="235.4" y="337.9" font-size="16.7" text-anchor="start" font-weight="normal" >RHCP</text>
<text x="24.2" y="358.6" font-size="16.7" text-anchor="start" font-weight="normal" >Mea.</text><text x="105.8" y="358.6" font-size="16.7" text-anchor="start" font-weight="normal" >Pork</text><text x="142.9" y="358.6" font-size="16.7" text-anchor="start" font-weight="normal" >LHCP</text><text x="237.1" y="358.6" font-size="16.7" text-anchor="start" font-weight="normal" >Pork</text><text x="274.6" y="358.6" font-size="16.7" text-anchor="start" font-weight="normal" >RHCP</text>
<text x="24.2" y="380.5" font-size="16.7" text-anchor="start" font-weight="normal" >Mea.</text><text x="105.8" y="380.5" font-size="16.7" text-anchor="start" font-weight="normal" >Gel</text><text x="138.3" y="380.5" font-size="16.7" text-anchor="start" font-weight="normal" >LHCP</text><text x="233.6" y="380.5" font-size="16.7" text-anchor="start" font-weight="normal" >Gel</text><text x="267" y="380.5" font-size="16.7" text-anchor="start" font-weight="normal" >RHCP</text>
<line x1="63.4" y1="332.4" x2="102.3" y2="332.4" stroke="#ff0000" stroke-width="1"/><rect x="79.3" y="328.7" width="7.4" height="7.4" fill="#ff0000"/>
<line x1="62" y1="353.7" x2="101.5" y2="353.7" stroke="#ff0000" stroke-width="1"/><circle cx="81.7" cy="353.7" r="3.85" fill="#fff" stroke="#ff0000" stroke-width="1.15"/>
<line x1="62" y1="374.6" x2="101.5" y2="374.6" stroke="#ff0000" stroke-width="1"/><path d="M81.7 369.3 L86.9 378.2 L76.5 378.2 Z" fill="#ff0000"/>
<line x1="192.4" y1="332.4" x2="231.6" y2="332.4" stroke="#0000ff" stroke-width="1"/><circle cx="212.2" cy="332.4" r="4.55" fill="url(#sph)"/>
<line x1="194.4" y1="353.7" x2="233.3" y2="353.7" stroke="#0000ff" stroke-width="1"/><path d="M213.5 348.6 L218.6 353.7 L213.5 358.8 L208.4 353.7 Z" fill="#fff" stroke="#0000ff" stroke-width="1"/>
<line x1="190.4" y1="374.6" x2="229.6" y2="374.6" stroke="#0000ff" stroke-width="1"/><path d="M210.2 369.1 L211.53 372.78 L215.43 372.9 L212.34 375.3 L213.43 379.05 L210.2 376.86 L206.97 379.05 L208.06 375.3 L204.97 372.9 L208.87 372.78 Z" fill="#0000ff"/>
<text x="184.4" y="419.3" font-size="18" text-anchor="middle" font-weight="bold" >(a)</text>
<text x="364.2" y="345.5" font-size="18" text-anchor="start" font-weight="normal" >Sim.</text><text x="458.8" y="345.5" font-size="18" text-anchor="start" font-weight="normal" >LHCP</text><text x="592.9" y="345.5" font-size="18" text-anchor="start" font-weight="normal" >RHCP</text>
<text x="364.2" y="368.4" font-size="18" text-anchor="start" font-weight="normal" >Mea.</text><text x="452" y="368.4" font-size="18" text-anchor="start" font-weight="normal" >Pork</text><text x="490.7" y="368.4" font-size="18" text-anchor="start" font-weight="normal" >LHCP</text><text x="593.4" y="368.4" font-size="18" text-anchor="start" font-weight="normal" >Pork</text><text x="632.5" y="368.4" font-size="18" text-anchor="start" font-weight="normal" >RHCP</text>
<text x="364.2" y="390.8" font-size="18" text-anchor="start" font-weight="normal" >Mea.</text><text x="452" y="390.8" font-size="18" text-anchor="start" font-weight="normal" >Gel</text><text x="488.1" y="390.8" font-size="18" text-anchor="start" font-weight="normal" >LHCP</text><text x="589.7" y="390.8" font-size="18" text-anchor="start" font-weight="normal" >Gel</text><text x="625" y="390.8" font-size="18" text-anchor="start" font-weight="normal" >RHCP</text>
<line x1="407.3" y1="339.7" x2="448.8" y2="339.7" stroke="#ff0000" stroke-width="1"/><rect x="424.1" y="336" width="7.4" height="7.4" fill="#ff0000"/>
<line x1="406" y1="362.8" x2="447.2" y2="362.8" stroke="#ff0000" stroke-width="1"/><circle cx="426.5" cy="362.8" r="3.85" fill="#fff" stroke="#ff0000" stroke-width="1.15"/>
<line x1="406" y1="384.7" x2="447.2" y2="384.7" stroke="#ff0000" stroke-width="1"/><path d="M426.5 379.4 L431.7 388.3 L421.3 388.3 Z" fill="#ff0000"/>
<line x1="546" y1="339.7" x2="588.2" y2="339.7" stroke="#0000ff" stroke-width="1"/><circle cx="567.1" cy="339.7" r="4.55" fill="url(#sph)"/>
<line x1="546.8" y1="362.8" x2="588.9" y2="362.8" stroke="#0000ff" stroke-width="1"/><path d="M567.6 357.7 L572.7 362.8 L567.6 367.9 L562.5 362.8 Z" fill="#fff" stroke="#0000ff" stroke-width="1"/>
<line x1="543.5" y1="384.7" x2="585" y2="384.7" stroke="#0000ff" stroke-width="1"/><path d="M564.1 379.2 L565.43 382.88 L569.33 383 L566.24 385.4 L567.33 389.15 L564.1 386.95 L560.87 389.15 L561.96 385.4 L558.87 383 L562.77 382.88 Z" fill="#0000ff"/>
<text x="517.7" y="420.4" font-size="18.4" text-anchor="middle" font-weight="bold" >(b)</text>
</svg>
</body></html>
